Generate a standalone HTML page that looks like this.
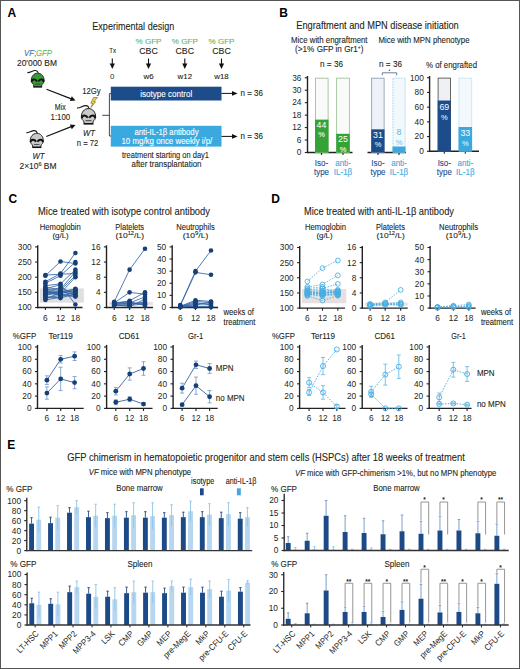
<!DOCTYPE html>
<html><head><meta charset="utf-8"><style>
html,body{margin:0;padding:0;background:#fff;}
svg{display:block;font-family:"Liberation Sans",sans-serif;}
</style></head><body>
<svg width="520" height="669" viewBox="0 0 520 669">
<rect x="0" y="0" width="520" height="669" fill="#fff"/>
<text x="7.5" y="16.6" font-size="12" fill="#000" font-weight="bold">A</text>
<text x="133.3" y="29.8" font-size="10" fill="#231f20" stroke="#231f20" stroke-width="0.1" text-anchor="middle" textLength="82" lengthAdjust="spacingAndGlyphs">Experimental design</text>
<text x="112.7" y="53.2" font-size="7.9" fill="#231f20" stroke="#231f20" stroke-width="0.1" text-anchor="middle" textLength="6.8" lengthAdjust="spacingAndGlyphs">Tx</text>
<line x1="112.3" y1="58.5" x2="112.3" y2="65" stroke="#111" stroke-width="1.1"/>
<path d="M109.7,63.5 L114.89999999999999,63.5 L112.3,69 Z" fill="#111" stroke="none" stroke-width="1"/>
<text x="148.5" y="43.5" font-size="7.9" fill="#5cb85c" stroke="#5cb85c" stroke-width="0.1" text-anchor="middle" textLength="26" lengthAdjust="spacingAndGlyphs">% GFP</text>
<text x="148.5" y="54.3" font-size="8.4" fill="#231f20" stroke="#231f20" stroke-width="0.1" text-anchor="middle" textLength="18.5" lengthAdjust="spacingAndGlyphs">CBC</text>
<line x1="148.5" y1="58.5" x2="148.5" y2="65" stroke="#111" stroke-width="1.1"/>
<path d="M145.9,63.5 L151.1,63.5 L148.5,69 Z" fill="#111" stroke="none" stroke-width="1"/>
<text x="184.8" y="43.5" font-size="7.9" fill="#5cb85c" stroke="#5cb85c" stroke-width="0.1" text-anchor="middle" textLength="26" lengthAdjust="spacingAndGlyphs">% GFP</text>
<text x="184.8" y="54.3" font-size="8.4" fill="#231f20" stroke="#231f20" stroke-width="0.1" text-anchor="middle" textLength="18.5" lengthAdjust="spacingAndGlyphs">CBC</text>
<line x1="184.8" y1="58.5" x2="184.8" y2="65" stroke="#111" stroke-width="1.1"/>
<path d="M182.20000000000002,63.5 L187.4,63.5 L184.8,69 Z" fill="#111" stroke="none" stroke-width="1"/>
<text x="221.5" y="43.5" font-size="7.9" fill="#5cb85c" stroke="#5cb85c" stroke-width="0.1" text-anchor="middle" textLength="26" lengthAdjust="spacingAndGlyphs">% GFP</text>
<text x="221.5" y="54.3" font-size="8.4" fill="#231f20" stroke="#231f20" stroke-width="0.1" text-anchor="middle" textLength="18.5" lengthAdjust="spacingAndGlyphs">CBC</text>
<line x1="221.5" y1="58.5" x2="221.5" y2="65" stroke="#111" stroke-width="1.1"/>
<path d="M218.9,63.5 L224.1,63.5 L221.5,69 Z" fill="#111" stroke="none" stroke-width="1"/>
<text x="112.3" y="78.8" font-size="7.9" fill="#231f20" text-anchor="middle">0</text>
<text x="148.5" y="78.8" font-size="7.9" fill="#231f20" stroke="#231f20" stroke-width="0.1" text-anchor="middle">w6</text>
<text x="184.8" y="78.8" font-size="7.9" fill="#231f20" stroke="#231f20" stroke-width="0.1" text-anchor="middle">w12</text>
<text x="221.5" y="78.8" font-size="7.9" fill="#231f20" stroke="#231f20" stroke-width="0.1" text-anchor="middle">w18</text>
<rect x="110.8" y="86.7" width="110.7" height="13.8" fill="#1c4c8a"/>
<text x="166.2" y="96.6" font-size="8.3" fill="#fff" stroke="#fff" stroke-width="0.1" text-anchor="middle" textLength="52" lengthAdjust="spacingAndGlyphs">isotype control</text>
<rect x="110.8" y="125.8" width="110.7" height="20.8" fill="#3aa9e0"/>
<text x="166.5" y="135.2" font-size="8.3" fill="#fff" stroke="#fff" stroke-width="0.1" text-anchor="middle" textLength="64" lengthAdjust="spacingAndGlyphs">anti-IL-1β antibody</text>
<text x="166.9" y="144.4" font-size="8.3" fill="#fff" stroke="#fff" stroke-width="0.1" text-anchor="middle" textLength="90.8" lengthAdjust="spacingAndGlyphs">10 mg/kg once weekly i/p/</text>
<text x="165.5" y="158.2" font-size="8.5" fill="#231f20" stroke="#231f20" stroke-width="0.1" text-anchor="middle" textLength="87" lengthAdjust="spacingAndGlyphs">treatment starting on day1</text>
<text x="166.5" y="166.6" font-size="8.5" fill="#231f20" stroke="#231f20" stroke-width="0.1" text-anchor="middle" textLength="70" lengthAdjust="spacingAndGlyphs">after transplantation</text>
<line x1="221.5" y1="93.4" x2="233" y2="93.4" stroke="#111" stroke-width="1"/>
<path d="M232,91.10000000000001 L237.6,93.4 L232,95.7 Z" fill="#111" stroke="none" stroke-width="1"/>
<text x="240.5" y="96.4" font-size="8.4" fill="#231f20" stroke="#231f20" stroke-width="0.1" textLength="22.5" lengthAdjust="spacingAndGlyphs">n = 36</text>
<line x1="221.5" y1="136.4" x2="233" y2="136.4" stroke="#111" stroke-width="1"/>
<path d="M232,134.1 L237.6,136.4 L232,138.70000000000002 Z" fill="#111" stroke="none" stroke-width="1"/>
<text x="240.5" y="139.4" font-size="8.4" fill="#231f20" stroke="#231f20" stroke-width="0.1" textLength="22.5" lengthAdjust="spacingAndGlyphs">n = 36</text>
<path d="M111,93.6 L109.4,93.6 L109.4,136 L111,136" fill="none" stroke="#333" stroke-width="0.9"/>
<line x1="102.2" y1="115.3" x2="109.4" y2="115.3" stroke="#333" stroke-width="0.9"/>
<g transform="translate(37.7,80.3) scale(0.9)"><path d="M-11.5,-8.6 C-9,-8 -7,-10.2 -3.5,-10.8 C-1,-11.2 0.2,-9.8 0.4,-7.8" fill="none" stroke="#1a1a1a" stroke-width="1.2"/><path d="M0,-7.9 C4.5,-7.9 7.1,-4 7.1,0 C7.1,2.5 5.8,3.8 4.7,4.8 L4.3,7 L-4.3,7 L-4.7,4.8 C-5.8,3.8 -7.1,2.5 -7.1,0 C-7.1,-4 -4.5,-7.9 0,-7.9 Z" fill="#3a9a3a" stroke="#1a1a1a" stroke-width="1"/><path d="M-6.8,1.6 C-6.2,-1.6 -2.6,-1.8 -0.7,1.3" fill="none" stroke="#111" stroke-width="2"/><path d="M6.8,1.6 C6.2,-1.6 2.6,-1.8 0.7,1.3" fill="none" stroke="#111" stroke-width="2"/><path d="M-3,4.2 L3,4.2" stroke="#333" stroke-width="0.9"/><path d="M-5,7.4 L5,7.4" stroke="#111" stroke-width="1.4"/></g>
<g transform="translate(88.5,116.5) scale(1.0)"><path d="M-11.5,-8.6 C-9,-8 -7,-10.2 -3.5,-10.8 C-1,-11.2 0.2,-9.8 0.4,-7.8" fill="none" stroke="#1a1a1a" stroke-width="1.2"/><path d="M0,-7.9 C4.5,-7.9 7.1,-4 7.1,0 C7.1,2.5 5.8,3.8 4.7,4.8 L4.3,7 L-4.3,7 L-4.7,4.8 C-5.8,3.8 -7.1,2.5 -7.1,0 C-7.1,-4 -4.5,-7.9 0,-7.9 Z" fill="#c9c9c9" stroke="#1a1a1a" stroke-width="1"/><path d="M-6.8,1.6 C-6.2,-1.6 -2.6,-1.8 -0.7,1.3" fill="none" stroke="#111" stroke-width="2"/><path d="M6.8,1.6 C6.2,-1.6 2.6,-1.8 0.7,1.3" fill="none" stroke="#111" stroke-width="2"/><path d="M-3,4.2 L3,4.2" stroke="#333" stroke-width="0.9"/><path d="M-5,7.4 L5,7.4" stroke="#111" stroke-width="1.4"/></g>
<g transform="translate(36.8,140.6) scale(0.92)"><path d="M-11.5,-8.6 C-9,-8 -7,-10.2 -3.5,-10.8 C-1,-11.2 0.2,-9.8 0.4,-7.8" fill="none" stroke="#1a1a1a" stroke-width="1.2"/><path d="M0,-7.9 C4.5,-7.9 7.1,-4 7.1,0 C7.1,2.5 5.8,3.8 4.7,4.8 L4.3,7 L-4.3,7 L-4.7,4.8 C-5.8,3.8 -7.1,2.5 -7.1,0 C-7.1,-4 -4.5,-7.9 0,-7.9 Z" fill="#c9c9c9" stroke="#1a1a1a" stroke-width="1"/><path d="M-6.8,1.6 C-6.2,-1.6 -2.6,-1.8 -0.7,1.3" fill="none" stroke="#111" stroke-width="2"/><path d="M6.8,1.6 C6.2,-1.6 2.6,-1.8 0.7,1.3" fill="none" stroke="#111" stroke-width="2"/><path d="M-3,4.2 L3,4.2" stroke="#333" stroke-width="0.9"/><path d="M-5,7.4 L5,7.4" stroke="#111" stroke-width="1.4"/></g>
<text x="38" y="55.6" font-size="8.4" fill="#231f20" stroke="#231f20" stroke-width="0.1" text-anchor="middle" textLength="28" lengthAdjust="spacingAndGlyphs"><tspan fill="#3b6cb3" stroke="#3b6cb3" font-style="italic">VF</tspan><tspan fill="#3b6cb3" stroke="#3b6cb3">;</tspan><tspan fill="#5cb85c" stroke="#5cb85c" font-style="italic">GFP</tspan></text>
<text x="37" y="65.6" font-size="8.4" fill="#231f20" stroke="#231f20" stroke-width="0.1" text-anchor="middle" textLength="40" lengthAdjust="spacingAndGlyphs">20'000 BM</text>
<text x="91.5" y="93.6" font-size="8.2" fill="#231f20" stroke="#231f20" stroke-width="0.1" text-anchor="middle" textLength="18.5" lengthAdjust="spacingAndGlyphs">12Gy</text>
<path d="M97.5,97.5 L93.8,101.8 L95.6,101.8 L91,107.5 L92.6,103.2 L90.8,103.2 L93.5,97.5 Z" fill="#f2d13a" stroke="#444" stroke-width="0.5"/>
<text x="60.3" y="110.2" font-size="8.4" fill="#231f20" stroke="#231f20" stroke-width="0.1" text-anchor="middle" textLength="11" lengthAdjust="spacingAndGlyphs">Mix</text>
<text x="60.4" y="119.8" font-size="8.4" fill="#231f20" stroke="#231f20" stroke-width="0.1" text-anchor="middle" textLength="19.7" lengthAdjust="spacingAndGlyphs">1:100</text>
<text x="89" y="136.4" font-size="8.4" fill="#231f20" stroke="#231f20" stroke-width="0.1" text-anchor="middle" font-style="italic" textLength="12" lengthAdjust="spacingAndGlyphs">WT</text>
<text x="87.5" y="146" font-size="8.2" fill="#231f20" stroke="#231f20" stroke-width="0.1" text-anchor="middle" textLength="21.5" lengthAdjust="spacingAndGlyphs">n = 72</text>
<text x="38.5" y="159" font-size="8.4" fill="#231f20" stroke="#231f20" stroke-width="0.1" text-anchor="middle" font-style="italic" textLength="12" lengthAdjust="spacingAndGlyphs">WT</text>
<text x="38" y="168.8" font-size="8.4" fill="#231f20" stroke="#231f20" stroke-width="0.1" text-anchor="middle" textLength="37" lengthAdjust="spacingAndGlyphs">2×10<tspan font-size="5.5" dy="-3">6</tspan><tspan dy="3"> BM</tspan></text>
<line x1="46.5" y1="89.2" x2="71.30706525539725" y2="98.86620128917204" stroke="#111" stroke-width="1.1"/>
<path d="M75.5,100.5 L69.89721102862968,101.10725261818385 L71.78515620558643,96.26208357997623 Z" fill="#111" stroke="none" stroke-width="1"/>
<line x1="46.3" y1="136.4" x2="71.30813791803361" y2="126.63654889501429" stroke="#111" stroke-width="1.1"/>
<path d="M75.5,125 L71.78793704826782,129.24035241959643 L69.89681388069576,124.3964229026575 Z" fill="#111" stroke="none" stroke-width="1"/>
<text x="279.3" y="17" font-size="12" fill="#000" font-weight="bold">B</text>
<text x="377.5" y="29" font-size="10.1" fill="#231f20" stroke="#231f20" stroke-width="0.1" text-anchor="middle" textLength="162.5" lengthAdjust="spacingAndGlyphs">Engraftment and MPN disease initiation</text>
<text x="329.3" y="43.2" font-size="8.8" fill="#231f20" stroke="#231f20" stroke-width="0.1" text-anchor="middle" textLength="76.5" lengthAdjust="spacingAndGlyphs">Mice with engraftment</text>
<text x="329.3" y="52.3" font-size="8.8" fill="#231f20" stroke="#231f20" stroke-width="0.1" text-anchor="middle" textLength="68.5" lengthAdjust="spacingAndGlyphs">(&gt;1% GFP in Gr1<tspan font-size="5.5" dy="-3">+</tspan><tspan dy="3">)</tspan></text>
<text x="424" y="43.2" font-size="8.8" fill="#231f20" stroke="#231f20" stroke-width="0.1" text-anchor="middle" textLength="91" lengthAdjust="spacingAndGlyphs">Mice with MPN phenotype</text>
<text x="331.5" y="67.2" font-size="8.9" fill="#231f20" stroke="#231f20" stroke-width="0.1" text-anchor="middle" textLength="23" lengthAdjust="spacingAndGlyphs">n = 36</text>
<text x="390.5" y="67.2" font-size="8.9" fill="#231f20" stroke="#231f20" stroke-width="0.1" text-anchor="middle" textLength="23" lengthAdjust="spacingAndGlyphs">n = 36</text>
<text x="451.5" y="67.5" font-size="8.8" fill="#231f20" stroke="#231f20" stroke-width="0.1" text-anchor="middle" textLength="51" lengthAdjust="spacingAndGlyphs">% of engrafted</text>
<line x1="307.5" y1="76" x2="307.5" y2="153.1" stroke="#222" stroke-width="1.4"/>
<line x1="307" y1="152.5" x2="352.5" y2="152.5" stroke="#222" stroke-width="1.4"/>
<line x1="304.8" y1="152.5" x2="307.5" y2="152.5" stroke="#222" stroke-width="1.1"/>
<text x="301.4" y="155.3" font-size="8.3" fill="#231f20" text-anchor="end">0</text>
<line x1="304.8" y1="140.044" x2="307.5" y2="140.044" stroke="#222" stroke-width="1.1"/>
<text x="301.4" y="142.84400000000002" font-size="8.3" fill="#231f20" text-anchor="end">6</text>
<line x1="304.8" y1="127.588" x2="307.5" y2="127.588" stroke="#222" stroke-width="1.1"/>
<text x="301.4" y="130.388" font-size="8.3" fill="#231f20" text-anchor="end">12</text>
<line x1="304.8" y1="115.132" x2="307.5" y2="115.132" stroke="#222" stroke-width="1.1"/>
<text x="301.4" y="117.932" font-size="8.3" fill="#231f20" text-anchor="end">18</text>
<line x1="304.8" y1="102.676" x2="307.5" y2="102.676" stroke="#222" stroke-width="1.1"/>
<text x="301.4" y="105.476" font-size="8.3" fill="#231f20" text-anchor="end">24</text>
<line x1="304.8" y1="90.22" x2="307.5" y2="90.22" stroke="#222" stroke-width="1.1"/>
<text x="301.4" y="93.02" font-size="8.3" fill="#231f20" text-anchor="end">30</text>
<line x1="304.8" y1="77.764" x2="307.5" y2="77.764" stroke="#222" stroke-width="1.1"/>
<text x="301.4" y="80.564" font-size="8.3" fill="#231f20" text-anchor="end">36</text>
<line x1="367.5" y1="152.5" x2="406" y2="152.5" stroke="#222" stroke-width="1.4"/>
<line x1="321.5" y1="152.5" x2="321.5" y2="155.0" stroke="#222" stroke-width="1.1"/>
<line x1="343" y1="152.5" x2="343" y2="155.0" stroke="#222" stroke-width="1.1"/>
<line x1="378" y1="152.5" x2="378" y2="155.0" stroke="#222" stroke-width="1.1"/>
<line x1="399" y1="152.5" x2="399" y2="155.0" stroke="#222" stroke-width="1.1"/>
<rect x="315.4" y="78.164" width="12.7" height="74.336" fill="#fafbf8" stroke="#94bc92" stroke-width="0.8"/>
<rect x="315" y="119.61616000000001" width="13.5" height="32.88384" fill="#34a236"/>
<rect x="336.65" y="78.164" width="12.7" height="74.336" fill="#fafbf8" stroke="#94bc92" stroke-width="0.8"/>
<rect x="336.25" y="133.816" width="13.5" height="18.684" fill="#34a236"/>
<rect x="371.65" y="78.164" width="12.45" height="74.336" fill="#eef1f7" stroke="#8494b4" stroke-width="0.8"/>
<rect x="371.25" y="129.33184" width="13.25" height="23.16816" fill="#1c4c8a"/>
<rect x="392.9" y="78.164" width="12.2" height="74.336" fill="#f3f8fc" stroke="#7fc4ea" stroke-width="0.8" stroke-dasharray="0.8,0.8"/>
<rect x="392.5" y="146.52112" width="13" height="5.97888" fill="#3aa9e0"/>
<text x="321.5" y="127.6" font-size="8.8" fill="#fff" text-anchor="middle">44</text>
<text x="321.5" y="137.4" font-size="7.5" fill="#eef8ec" stroke="#eef8ec" stroke-width="0.1" text-anchor="middle">%</text>
<text x="343" y="142" font-size="8.8" fill="#fff" text-anchor="middle">25</text>
<text x="343" y="151.5" font-size="7.5" fill="#eef8ec" stroke="#eef8ec" stroke-width="0.1" text-anchor="middle">%</text>
<text x="378" y="137.6" font-size="8.8" fill="#fff" text-anchor="middle">31</text>
<text x="378" y="147.2" font-size="7.5" fill="#d8e2f0" stroke="#d8e2f0" stroke-width="0.1" text-anchor="middle">%</text>
<text x="399" y="135.2" font-size="8.8" fill="#62b6e4" text-anchor="middle">8</text>
<text x="399" y="145.2" font-size="7.5" fill="#8ecbea" stroke="#8ecbea" stroke-width="0.1" text-anchor="middle">%</text>
<path d="M382.3,75.3 L382.3,72.8 L396.7,72.8 L396.7,75.3" fill="none" stroke="#5a6f96" stroke-width="0.9"/>
<circle cx="389.4" cy="70.2" r="0.8" fill="#555" stroke="none" stroke-width="1"/>
<line x1="429.6" y1="76" x2="429.6" y2="151.9" stroke="#222" stroke-width="1.4"/>
<line x1="429" y1="151.3" x2="479" y2="151.3" stroke="#222" stroke-width="1.4"/>
<line x1="427" y1="151.3" x2="429.6" y2="151.3" stroke="#222" stroke-width="1.1"/>
<text x="423.8" y="154.10000000000002" font-size="8.3" fill="#231f20" text-anchor="end">0</text>
<line x1="427" y1="136.58" x2="429.6" y2="136.58" stroke="#222" stroke-width="1.1"/>
<text x="423.8" y="139.38000000000002" font-size="8.3" fill="#231f20" text-anchor="end">20</text>
<line x1="427" y1="121.86000000000001" x2="429.6" y2="121.86000000000001" stroke="#222" stroke-width="1.1"/>
<text x="423.8" y="124.66000000000001" font-size="8.3" fill="#231f20" text-anchor="end">40</text>
<line x1="427" y1="107.14000000000001" x2="429.6" y2="107.14000000000001" stroke="#222" stroke-width="1.1"/>
<text x="423.8" y="109.94000000000001" font-size="8.3" fill="#231f20" text-anchor="end">60</text>
<line x1="427" y1="92.42000000000002" x2="429.6" y2="92.42000000000002" stroke="#222" stroke-width="1.1"/>
<text x="423.8" y="95.22000000000001" font-size="8.3" fill="#231f20" text-anchor="end">80</text>
<line x1="427" y1="77.70000000000002" x2="429.6" y2="77.70000000000002" stroke="#222" stroke-width="1.1"/>
<text x="423.8" y="80.50000000000001" font-size="8.3" fill="#231f20" text-anchor="end">100</text>
<line x1="444.3" y1="151.3" x2="444.3" y2="153.8" stroke="#222" stroke-width="1.1"/>
<line x1="465.3" y1="151.3" x2="465.3" y2="153.8" stroke="#222" stroke-width="1.1"/>
<rect x="438.1" y="78.10000000000002" width="12.4" height="73.19999999999999" fill="#eef0f4" stroke="#444" stroke-width="0.8"/>
<rect x="437.7" y="100.51600000000002" width="13.2" height="50.784" fill="#1c4c8a"/>
<rect x="458.9" y="78.10000000000002" width="12.8" height="73.19999999999999" fill="#f3f8fc" stroke="#8ecbea" stroke-width="0.8" stroke-dasharray="0.8,0.8"/>
<rect x="458.5" y="127.01200000000001" width="13.6" height="24.288" fill="#3aa9e0"/>
<text x="444.3" y="109.8" font-size="8.8" fill="#fff" text-anchor="middle">69</text>
<text x="444.3" y="119.5" font-size="7.5" fill="#d8e2f0" stroke="#d8e2f0" stroke-width="0.1" text-anchor="middle">%</text>
<text x="465.3" y="136.3" font-size="8.8" fill="#fff" text-anchor="middle">33</text>
<text x="465.3" y="146" font-size="7.5" fill="#d8eef8" stroke="#d8eef8" stroke-width="0.1" text-anchor="middle">%</text>
<text x="321.5" y="165.8" font-size="8.7" fill="#1c4c8a" stroke="#1c4c8a" stroke-width="0.1" text-anchor="middle" textLength="13.34" lengthAdjust="spacingAndGlyphs">Iso-</text>
<text x="321.5" y="174.8" font-size="8.7" fill="#1c4c8a" stroke="#1c4c8a" stroke-width="0.1" text-anchor="middle" textLength="15.12" lengthAdjust="spacingAndGlyphs">type</text>
<text x="343" y="165.8" font-size="8.7" fill="#3aa9e0" stroke="#3aa9e0" stroke-width="0.1" text-anchor="middle" textLength="15.56" lengthAdjust="spacingAndGlyphs">anti-</text>
<text x="343" y="174.8" font-size="8.7" fill="#3aa9e0" stroke="#3aa9e0" stroke-width="0.1" text-anchor="middle" textLength="18.39" lengthAdjust="spacingAndGlyphs">IL-1β</text>
<text x="378" y="165.8" font-size="8.7" fill="#1c4c8a" stroke="#1c4c8a" stroke-width="0.1" text-anchor="middle" textLength="13.34" lengthAdjust="spacingAndGlyphs">Iso-</text>
<text x="378" y="174.8" font-size="8.7" fill="#1c4c8a" stroke="#1c4c8a" stroke-width="0.1" text-anchor="middle" textLength="15.12" lengthAdjust="spacingAndGlyphs">type</text>
<text x="399" y="165.8" font-size="8.7" fill="#3aa9e0" stroke="#3aa9e0" stroke-width="0.1" text-anchor="middle" textLength="15.56" lengthAdjust="spacingAndGlyphs">anti-</text>
<text x="399" y="174.8" font-size="8.7" fill="#3aa9e0" stroke="#3aa9e0" stroke-width="0.1" text-anchor="middle" textLength="18.39" lengthAdjust="spacingAndGlyphs">IL-1β</text>
<text x="444.3" y="165.8" font-size="8.7" fill="#1c4c8a" stroke="#1c4c8a" stroke-width="0.1" text-anchor="middle" textLength="13.34" lengthAdjust="spacingAndGlyphs">Iso-</text>
<text x="444.3" y="174.8" font-size="8.7" fill="#1c4c8a" stroke="#1c4c8a" stroke-width="0.1" text-anchor="middle" textLength="15.12" lengthAdjust="spacingAndGlyphs">type</text>
<text x="465.3" y="165.8" font-size="8.7" fill="#3aa9e0" stroke="#3aa9e0" stroke-width="0.1" text-anchor="middle" textLength="15.56" lengthAdjust="spacingAndGlyphs">anti-</text>
<text x="465.3" y="174.8" font-size="8.7" fill="#3aa9e0" stroke="#3aa9e0" stroke-width="0.1" text-anchor="middle" textLength="18.39" lengthAdjust="spacingAndGlyphs">IL-1β</text>
<text x="8.5" y="203" font-size="12" fill="#000" font-weight="bold">C</text>
<text x="124" y="215.2" font-size="10.1" fill="#231f20" stroke="#231f20" stroke-width="0.1" text-anchor="middle" textLength="172" lengthAdjust="spacingAndGlyphs">Mice treated with isotype control antibody</text>
<text x="60.3" y="229.6" font-size="8.6" fill="#231f20" stroke="#231f20" stroke-width="0.1" text-anchor="middle" textLength="41" lengthAdjust="spacingAndGlyphs">Hemoglobin</text>
<text x="60.6" y="238.2" font-size="7.7" fill="#231f20" stroke="#231f20" stroke-width="0.1" text-anchor="middle" textLength="16.2" lengthAdjust="spacingAndGlyphs">(g/L)</text>
<text x="129.7" y="229.6" font-size="8.6" fill="#231f20" stroke="#231f20" stroke-width="0.1" text-anchor="middle" textLength="28.8" lengthAdjust="spacingAndGlyphs">Platelets</text>
<text x="129.7" y="238.2" font-size="7.7" fill="#231f20" stroke="#231f20" stroke-width="0.1" text-anchor="middle" textLength="28.6" lengthAdjust="spacingAndGlyphs">(10<tspan font-size="5.2" dy="-3">12</tspan><tspan dy="3">/L)</tspan></text>
<text x="195.5" y="229.6" font-size="8.6" fill="#231f20" stroke="#231f20" stroke-width="0.1" text-anchor="middle" textLength="38.5" lengthAdjust="spacingAndGlyphs">Neutrophils</text>
<text x="195.5" y="238.2" font-size="7.7" fill="#231f20" stroke="#231f20" stroke-width="0.1" text-anchor="middle" textLength="25.5" lengthAdjust="spacingAndGlyphs">(10<tspan font-size="5.4" dy="-3">9</tspan><tspan dy="3">/L)</tspan></text>
<rect x="40.0" y="288.411" width="43.8" height="14.240999999999985" fill="#e0dfdf"/>
<line x1="37.7" y1="245.3" x2="37.7" y2="308.2" stroke="#222" stroke-width="1.4"/>
<line x1="35.1" y1="307.5" x2="37.7" y2="307.5" stroke="#222" stroke-width="1.1"/>
<text x="31.700000000000003" y="310.4" font-size="8.3" fill="#231f20" text-anchor="end">100</text>
<line x1="35.1" y1="292.35" x2="37.7" y2="292.35" stroke="#222" stroke-width="1.1"/>
<text x="31.700000000000003" y="295.25" font-size="8.3" fill="#231f20" text-anchor="end">150</text>
<line x1="35.1" y1="277.2" x2="37.7" y2="277.2" stroke="#222" stroke-width="1.1"/>
<text x="31.700000000000003" y="280.09999999999997" font-size="8.3" fill="#231f20" text-anchor="end">200</text>
<line x1="35.1" y1="262.05" x2="37.7" y2="262.05" stroke="#222" stroke-width="1.1"/>
<text x="31.700000000000003" y="264.95" font-size="8.3" fill="#231f20" text-anchor="end">250</text>
<line x1="35.1" y1="246.9" x2="37.7" y2="246.9" stroke="#222" stroke-width="1.1"/>
<text x="31.700000000000003" y="249.8" font-size="8.3" fill="#231f20" text-anchor="end">300</text>
<line x1="37.0" y1="307.5" x2="82.5" y2="307.5" stroke="#222" stroke-width="1.4"/>
<line x1="45.4" y1="307.5" x2="45.4" y2="310.1" stroke="#222" stroke-width="1.1"/>
<text x="45.4" y="320.8" font-size="8.3" fill="#231f20" text-anchor="middle">6</text>
<line x1="60.5" y1="307.5" x2="60.5" y2="310.1" stroke="#222" stroke-width="1.1"/>
<text x="60.5" y="320.8" font-size="8.3" fill="#231f20" text-anchor="middle">12</text>
<line x1="75.4" y1="307.5" x2="75.4" y2="310.1" stroke="#222" stroke-width="1.1"/>
<text x="75.4" y="320.8" font-size="8.3" fill="#231f20" text-anchor="middle">18</text>
<polyline points="45.4,275.685 60.5,261.444 75.4,263.565" fill="none" stroke="#3465a5" stroke-width="0.85"/>
<polyline points="45.4,275.079 60.5,274.17 75.4,273.564" fill="none" stroke="#3465a5" stroke-width="0.85"/>
<polyline points="45.4,281.745 60.5,273.564 75.4,252.96" fill="none" stroke="#3465a5" stroke-width="0.85"/>
<polyline points="45.4,283.26 60.5,275.685 75.4,262.05" fill="none" stroke="#3465a5" stroke-width="0.85"/>
<polyline points="45.4,285.684 60.5,283.866 75.4,269.625" fill="none" stroke="#3465a5" stroke-width="0.85"/>
<polyline points="45.4,287.502 60.5,289.32 75.4,271.746" fill="none" stroke="#3465a5" stroke-width="0.85"/>
<polyline points="45.4,289.32 60.5,290.229 75.4,275.685" fill="none" stroke="#3465a5" stroke-width="0.85"/>
<polyline points="45.4,290.229 60.5,292.35 75.4,288.714" fill="none" stroke="#3465a5" stroke-width="0.85"/>
<polyline points="45.4,291.744 60.5,293.562 75.4,290.532" fill="none" stroke="#3465a5" stroke-width="0.85"/>
<polyline points="45.4,292.956 60.5,295.077 75.4,292.35" fill="none" stroke="#3465a5" stroke-width="0.85"/>
<polyline points="45.4,293.865 60.5,286.896 75.4,295.077" fill="none" stroke="#3465a5" stroke-width="0.85"/>
<polyline points="45.4,295.077 60.5,292.047 75.4,289.32" fill="none" stroke="#3465a5" stroke-width="0.85"/>
<polyline points="45.4,296.592 60.5,298.107 75.4,293.562" fill="none" stroke="#3465a5" stroke-width="0.85"/>
<polyline points="45.4,298.107 60.5,295.38 75.4,296.592" fill="none" stroke="#3465a5" stroke-width="0.85"/>
<polyline points="45.4,299.925 60.5,297.198 75.4,291.744" fill="none" stroke="#3465a5" stroke-width="0.85"/>
<polyline points="45.4,288.714 60.5,284.775 75.4,304.47" fill="none" stroke="#3465a5" stroke-width="0.85"/>
<polyline points="45.4,292.35 60.5,293.259 75.4,277.2" fill="none" stroke="#3465a5" stroke-width="0.85"/>
<polyline points="45.4,295.683 60.5,290.532 75.4,295.38" fill="none" stroke="#3465a5" stroke-width="0.85"/>
<polyline points="45.4,290.835 60.5,294.471 75.4,295.986" fill="none" stroke="#3465a5" stroke-width="0.85"/>
<polyline points="45.4,299.016 60.5,292.653 75.4,290.835" fill="none" stroke="#3465a5" stroke-width="0.85"/>
<circle cx="45.4" cy="275.685" r="2.3" fill="#173f78" stroke="none" stroke-width="1"/>
<circle cx="60.5" cy="261.444" r="2.3" fill="#173f78" stroke="none" stroke-width="1"/>
<circle cx="75.4" cy="263.565" r="2.3" fill="#173f78" stroke="none" stroke-width="1"/>
<circle cx="45.4" cy="275.079" r="2.3" fill="#173f78" stroke="none" stroke-width="1"/>
<circle cx="60.5" cy="274.17" r="2.3" fill="#173f78" stroke="none" stroke-width="1"/>
<circle cx="75.4" cy="273.564" r="2.3" fill="#173f78" stroke="none" stroke-width="1"/>
<circle cx="45.4" cy="281.745" r="2.3" fill="#173f78" stroke="none" stroke-width="1"/>
<circle cx="60.5" cy="273.564" r="2.3" fill="#173f78" stroke="none" stroke-width="1"/>
<circle cx="75.4" cy="252.96" r="2.3" fill="#173f78" stroke="none" stroke-width="1"/>
<circle cx="45.4" cy="283.26" r="2.3" fill="#173f78" stroke="none" stroke-width="1"/>
<circle cx="60.5" cy="275.685" r="2.3" fill="#173f78" stroke="none" stroke-width="1"/>
<circle cx="75.4" cy="262.05" r="2.3" fill="#173f78" stroke="none" stroke-width="1"/>
<circle cx="45.4" cy="285.684" r="2.3" fill="#173f78" stroke="none" stroke-width="1"/>
<circle cx="60.5" cy="283.866" r="2.3" fill="#173f78" stroke="none" stroke-width="1"/>
<circle cx="75.4" cy="269.625" r="2.3" fill="#173f78" stroke="none" stroke-width="1"/>
<circle cx="45.4" cy="287.502" r="2.3" fill="#173f78" stroke="none" stroke-width="1"/>
<circle cx="60.5" cy="289.32" r="2.3" fill="#173f78" stroke="none" stroke-width="1"/>
<circle cx="75.4" cy="271.746" r="2.3" fill="#173f78" stroke="none" stroke-width="1"/>
<circle cx="45.4" cy="289.32" r="2.3" fill="#173f78" stroke="none" stroke-width="1"/>
<circle cx="60.5" cy="290.229" r="2.3" fill="#173f78" stroke="none" stroke-width="1"/>
<circle cx="75.4" cy="275.685" r="2.3" fill="#173f78" stroke="none" stroke-width="1"/>
<circle cx="45.4" cy="290.229" r="2.3" fill="#173f78" stroke="none" stroke-width="1"/>
<circle cx="60.5" cy="292.35" r="2.3" fill="#173f78" stroke="none" stroke-width="1"/>
<circle cx="75.4" cy="288.714" r="2.3" fill="#173f78" stroke="none" stroke-width="1"/>
<circle cx="45.4" cy="291.744" r="2.3" fill="#173f78" stroke="none" stroke-width="1"/>
<circle cx="60.5" cy="293.562" r="2.3" fill="#173f78" stroke="none" stroke-width="1"/>
<circle cx="75.4" cy="290.532" r="2.3" fill="#173f78" stroke="none" stroke-width="1"/>
<circle cx="45.4" cy="292.956" r="2.3" fill="#173f78" stroke="none" stroke-width="1"/>
<circle cx="60.5" cy="295.077" r="2.3" fill="#173f78" stroke="none" stroke-width="1"/>
<circle cx="75.4" cy="292.35" r="2.3" fill="#173f78" stroke="none" stroke-width="1"/>
<circle cx="45.4" cy="293.865" r="2.3" fill="#173f78" stroke="none" stroke-width="1"/>
<circle cx="60.5" cy="286.896" r="2.3" fill="#173f78" stroke="none" stroke-width="1"/>
<circle cx="75.4" cy="295.077" r="2.3" fill="#173f78" stroke="none" stroke-width="1"/>
<circle cx="45.4" cy="295.077" r="2.3" fill="#173f78" stroke="none" stroke-width="1"/>
<circle cx="60.5" cy="292.047" r="2.3" fill="#173f78" stroke="none" stroke-width="1"/>
<circle cx="75.4" cy="289.32" r="2.3" fill="#173f78" stroke="none" stroke-width="1"/>
<circle cx="45.4" cy="296.592" r="2.3" fill="#173f78" stroke="none" stroke-width="1"/>
<circle cx="60.5" cy="298.107" r="2.3" fill="#173f78" stroke="none" stroke-width="1"/>
<circle cx="75.4" cy="293.562" r="2.3" fill="#173f78" stroke="none" stroke-width="1"/>
<circle cx="45.4" cy="298.107" r="2.3" fill="#173f78" stroke="none" stroke-width="1"/>
<circle cx="60.5" cy="295.38" r="2.3" fill="#173f78" stroke="none" stroke-width="1"/>
<circle cx="75.4" cy="296.592" r="2.3" fill="#173f78" stroke="none" stroke-width="1"/>
<circle cx="45.4" cy="299.925" r="2.3" fill="#173f78" stroke="none" stroke-width="1"/>
<circle cx="60.5" cy="297.198" r="2.3" fill="#173f78" stroke="none" stroke-width="1"/>
<circle cx="75.4" cy="291.744" r="2.3" fill="#173f78" stroke="none" stroke-width="1"/>
<circle cx="45.4" cy="288.714" r="2.3" fill="#173f78" stroke="none" stroke-width="1"/>
<circle cx="60.5" cy="284.775" r="2.3" fill="#173f78" stroke="none" stroke-width="1"/>
<circle cx="75.4" cy="304.47" r="2.3" fill="#173f78" stroke="none" stroke-width="1"/>
<circle cx="45.4" cy="292.35" r="2.3" fill="#173f78" stroke="none" stroke-width="1"/>
<circle cx="60.5" cy="293.259" r="2.3" fill="#173f78" stroke="none" stroke-width="1"/>
<circle cx="75.4" cy="277.2" r="2.3" fill="#173f78" stroke="none" stroke-width="1"/>
<circle cx="45.4" cy="295.683" r="2.3" fill="#173f78" stroke="none" stroke-width="1"/>
<circle cx="60.5" cy="290.532" r="2.3" fill="#173f78" stroke="none" stroke-width="1"/>
<circle cx="75.4" cy="295.38" r="2.3" fill="#173f78" stroke="none" stroke-width="1"/>
<circle cx="45.4" cy="290.835" r="2.3" fill="#173f78" stroke="none" stroke-width="1"/>
<circle cx="60.5" cy="294.471" r="2.3" fill="#173f78" stroke="none" stroke-width="1"/>
<circle cx="75.4" cy="295.986" r="2.3" fill="#173f78" stroke="none" stroke-width="1"/>
<circle cx="45.4" cy="299.016" r="2.3" fill="#173f78" stroke="none" stroke-width="1"/>
<circle cx="60.5" cy="292.653" r="2.3" fill="#173f78" stroke="none" stroke-width="1"/>
<circle cx="75.4" cy="290.835" r="2.3" fill="#173f78" stroke="none" stroke-width="1"/>
<rect x="109.0" y="301.81875" width="44.0" height="3.4087499999999977" fill="#e8e4e4"/>
<line x1="106.5" y1="245.3" x2="106.5" y2="308.2" stroke="#222" stroke-width="1.4"/>
<line x1="103.9" y1="307.5" x2="106.5" y2="307.5" stroke="#222" stroke-width="1.1"/>
<text x="100.5" y="310.4" font-size="8.3" fill="#231f20" text-anchor="end">0</text>
<line x1="103.9" y1="292.35" x2="106.5" y2="292.35" stroke="#222" stroke-width="1.1"/>
<text x="100.5" y="295.25" font-size="8.3" fill="#231f20" text-anchor="end">4</text>
<line x1="103.9" y1="277.2" x2="106.5" y2="277.2" stroke="#222" stroke-width="1.1"/>
<text x="100.5" y="280.09999999999997" font-size="8.3" fill="#231f20" text-anchor="end">8</text>
<line x1="103.9" y1="262.05" x2="106.5" y2="262.05" stroke="#222" stroke-width="1.1"/>
<text x="100.5" y="264.95" font-size="8.3" fill="#231f20" text-anchor="end">12</text>
<line x1="103.9" y1="246.9" x2="106.5" y2="246.9" stroke="#222" stroke-width="1.1"/>
<text x="100.5" y="249.8" font-size="8.3" fill="#231f20" text-anchor="end">16</text>
<line x1="105.8" y1="307.5" x2="153" y2="307.5" stroke="#222" stroke-width="1.4"/>
<line x1="114.2" y1="307.5" x2="114.2" y2="310.1" stroke="#222" stroke-width="1.1"/>
<text x="114.2" y="320.8" font-size="8.3" fill="#231f20" text-anchor="middle">6</text>
<line x1="129.6" y1="307.5" x2="129.6" y2="310.1" stroke="#222" stroke-width="1.1"/>
<text x="129.6" y="320.8" font-size="8.3" fill="#231f20" text-anchor="middle">12</text>
<line x1="145" y1="307.5" x2="145" y2="310.1" stroke="#222" stroke-width="1.1"/>
<text x="145" y="320.8" font-size="8.3" fill="#231f20" text-anchor="middle">18</text>
<polyline points="114.2,301.81875 129.6,269.625 145,248.79375" fill="none" stroke="#3465a5" stroke-width="0.85"/>
<polyline points="114.2,302.955 129.6,292.35 145,294.24375" fill="none" stroke="#3465a5" stroke-width="0.85"/>
<polyline points="114.2,303.7125 129.6,300.6825 145,292.35" fill="none" stroke="#3465a5" stroke-width="0.85"/>
<polyline points="114.2,304.47 129.6,302.955 145,296.895" fill="none" stroke="#3465a5" stroke-width="0.85"/>
<polyline points="114.2,305.2275 129.6,304.47 145,301.81875" fill="none" stroke="#3465a5" stroke-width="0.85"/>
<polyline points="114.2,305.60625 129.6,305.60625 145,303.7125" fill="none" stroke="#3465a5" stroke-width="0.85"/>
<polyline points="114.2,302.57625 129.6,301.81875 145,305.60625" fill="none" stroke="#3465a5" stroke-width="0.85"/>
<polyline points="114.2,304.09125 129.6,303.7125 145,302.955" fill="none" stroke="#3465a5" stroke-width="0.85"/>
<polyline points="114.2,304.84875 129.6,306.36375 145,299.1675" fill="none" stroke="#3465a5" stroke-width="0.85"/>
<polyline points="114.2,303.33375 129.6,302.57625 145,304.47" fill="none" stroke="#3465a5" stroke-width="0.85"/>
<circle cx="114.2" cy="301.81875" r="2.3" fill="#173f78" stroke="none" stroke-width="1"/>
<circle cx="129.6" cy="269.625" r="2.3" fill="#173f78" stroke="none" stroke-width="1"/>
<circle cx="145" cy="248.79375" r="2.3" fill="#173f78" stroke="none" stroke-width="1"/>
<circle cx="114.2" cy="302.955" r="2.3" fill="#173f78" stroke="none" stroke-width="1"/>
<circle cx="129.6" cy="292.35" r="2.3" fill="#173f78" stroke="none" stroke-width="1"/>
<circle cx="145" cy="294.24375" r="2.3" fill="#173f78" stroke="none" stroke-width="1"/>
<circle cx="114.2" cy="303.7125" r="2.3" fill="#173f78" stroke="none" stroke-width="1"/>
<circle cx="129.6" cy="300.6825" r="2.3" fill="#173f78" stroke="none" stroke-width="1"/>
<circle cx="145" cy="292.35" r="2.3" fill="#173f78" stroke="none" stroke-width="1"/>
<circle cx="114.2" cy="304.47" r="2.3" fill="#173f78" stroke="none" stroke-width="1"/>
<circle cx="129.6" cy="302.955" r="2.3" fill="#173f78" stroke="none" stroke-width="1"/>
<circle cx="145" cy="296.895" r="2.3" fill="#173f78" stroke="none" stroke-width="1"/>
<circle cx="114.2" cy="305.2275" r="2.3" fill="#173f78" stroke="none" stroke-width="1"/>
<circle cx="129.6" cy="304.47" r="2.3" fill="#173f78" stroke="none" stroke-width="1"/>
<circle cx="145" cy="301.81875" r="2.3" fill="#173f78" stroke="none" stroke-width="1"/>
<circle cx="114.2" cy="305.60625" r="2.3" fill="#173f78" stroke="none" stroke-width="1"/>
<circle cx="129.6" cy="305.60625" r="2.3" fill="#173f78" stroke="none" stroke-width="1"/>
<circle cx="145" cy="303.7125" r="2.3" fill="#173f78" stroke="none" stroke-width="1"/>
<circle cx="114.2" cy="302.57625" r="2.3" fill="#173f78" stroke="none" stroke-width="1"/>
<circle cx="129.6" cy="301.81875" r="2.3" fill="#173f78" stroke="none" stroke-width="1"/>
<circle cx="145" cy="305.60625" r="2.3" fill="#173f78" stroke="none" stroke-width="1"/>
<circle cx="114.2" cy="304.09125" r="2.3" fill="#173f78" stroke="none" stroke-width="1"/>
<circle cx="129.6" cy="303.7125" r="2.3" fill="#173f78" stroke="none" stroke-width="1"/>
<circle cx="145" cy="302.955" r="2.3" fill="#173f78" stroke="none" stroke-width="1"/>
<circle cx="114.2" cy="304.84875" r="2.3" fill="#173f78" stroke="none" stroke-width="1"/>
<circle cx="129.6" cy="306.36375" r="2.3" fill="#173f78" stroke="none" stroke-width="1"/>
<circle cx="145" cy="299.1675" r="2.3" fill="#173f78" stroke="none" stroke-width="1"/>
<circle cx="114.2" cy="303.33375" r="2.3" fill="#173f78" stroke="none" stroke-width="1"/>
<circle cx="129.6" cy="302.57625" r="2.3" fill="#173f78" stroke="none" stroke-width="1"/>
<circle cx="145" cy="304.47" r="2.3" fill="#173f78" stroke="none" stroke-width="1"/>
<line x1="172.2" y1="245.3" x2="172.2" y2="308.2" stroke="#222" stroke-width="1.4"/>
<line x1="169.6" y1="307.5" x2="172.2" y2="307.5" stroke="#222" stroke-width="1.1"/>
<text x="166.2" y="310.4" font-size="8.3" fill="#231f20" text-anchor="end">0</text>
<line x1="169.6" y1="295.38" x2="172.2" y2="295.38" stroke="#222" stroke-width="1.1"/>
<text x="166.2" y="298.28" font-size="8.3" fill="#231f20" text-anchor="end">10</text>
<line x1="169.6" y1="283.26" x2="172.2" y2="283.26" stroke="#222" stroke-width="1.1"/>
<text x="166.2" y="286.15999999999997" font-size="8.3" fill="#231f20" text-anchor="end">20</text>
<line x1="169.6" y1="271.14" x2="172.2" y2="271.14" stroke="#222" stroke-width="1.1"/>
<text x="166.2" y="274.03999999999996" font-size="8.3" fill="#231f20" text-anchor="end">30</text>
<line x1="169.6" y1="259.02" x2="172.2" y2="259.02" stroke="#222" stroke-width="1.1"/>
<text x="166.2" y="261.91999999999996" font-size="8.3" fill="#231f20" text-anchor="end">40</text>
<line x1="169.6" y1="246.9" x2="172.2" y2="246.9" stroke="#222" stroke-width="1.1"/>
<text x="166.2" y="249.8" font-size="8.3" fill="#231f20" text-anchor="end">50</text>
<line x1="171.5" y1="307.5" x2="218.1" y2="307.5" stroke="#222" stroke-width="1.4"/>
<line x1="180.3" y1="307.5" x2="180.3" y2="310.1" stroke="#222" stroke-width="1.1"/>
<text x="180.3" y="320.8" font-size="8.3" fill="#231f20" text-anchor="middle">6</text>
<line x1="195.5" y1="307.5" x2="195.5" y2="310.1" stroke="#222" stroke-width="1.1"/>
<text x="195.5" y="320.8" font-size="8.3" fill="#231f20" text-anchor="middle">12</text>
<line x1="211" y1="307.5" x2="211" y2="310.1" stroke="#222" stroke-width="1.1"/>
<text x="211" y="320.8" font-size="8.3" fill="#231f20" text-anchor="middle">18</text>
<polyline points="180.3,305.076 195.5,271.14 211,250.536" fill="none" stroke="#3465a5" stroke-width="0.85"/>
<polyline points="180.3,305.682 195.5,272.352 211,274.776" fill="none" stroke="#3465a5" stroke-width="0.85"/>
<polyline points="180.3,306.288 195.5,300.228 211,301.44" fill="none" stroke="#3465a5" stroke-width="0.85"/>
<polyline points="180.3,306.5304 195.5,301.44 211,302.652" fill="none" stroke="#3465a5" stroke-width="0.85"/>
<polyline points="180.3,306.894 195.5,303.864 211,303.864" fill="none" stroke="#3465a5" stroke-width="0.85"/>
<polyline points="180.3,307.1364 195.5,306.288 211,306.288" fill="none" stroke="#3465a5" stroke-width="0.85"/>
<polyline points="180.3,306.0456 195.5,306.894 211,306.894" fill="none" stroke="#3465a5" stroke-width="0.85"/>
<polyline points="180.3,306.7728 195.5,302.652 211,305.076" fill="none" stroke="#3465a5" stroke-width="0.85"/>
<polyline points="180.3,306.4092 195.5,305.076 211,302.046" fill="none" stroke="#3465a5" stroke-width="0.85"/>
<circle cx="180.3" cy="305.076" r="2.3" fill="#173f78" stroke="none" stroke-width="1"/>
<circle cx="195.5" cy="271.14" r="2.3" fill="#173f78" stroke="none" stroke-width="1"/>
<circle cx="211" cy="250.536" r="2.3" fill="#173f78" stroke="none" stroke-width="1"/>
<circle cx="180.3" cy="305.682" r="2.3" fill="#173f78" stroke="none" stroke-width="1"/>
<circle cx="195.5" cy="272.352" r="2.3" fill="#173f78" stroke="none" stroke-width="1"/>
<circle cx="211" cy="274.776" r="2.3" fill="#173f78" stroke="none" stroke-width="1"/>
<circle cx="180.3" cy="306.288" r="2.3" fill="#173f78" stroke="none" stroke-width="1"/>
<circle cx="195.5" cy="300.228" r="2.3" fill="#173f78" stroke="none" stroke-width="1"/>
<circle cx="211" cy="301.44" r="2.3" fill="#173f78" stroke="none" stroke-width="1"/>
<circle cx="180.3" cy="306.5304" r="2.3" fill="#173f78" stroke="none" stroke-width="1"/>
<circle cx="195.5" cy="301.44" r="2.3" fill="#173f78" stroke="none" stroke-width="1"/>
<circle cx="211" cy="302.652" r="2.3" fill="#173f78" stroke="none" stroke-width="1"/>
<circle cx="180.3" cy="306.894" r="2.3" fill="#173f78" stroke="none" stroke-width="1"/>
<circle cx="195.5" cy="303.864" r="2.3" fill="#173f78" stroke="none" stroke-width="1"/>
<circle cx="211" cy="303.864" r="2.3" fill="#173f78" stroke="none" stroke-width="1"/>
<circle cx="180.3" cy="307.1364" r="2.3" fill="#173f78" stroke="none" stroke-width="1"/>
<circle cx="195.5" cy="306.288" r="2.3" fill="#173f78" stroke="none" stroke-width="1"/>
<circle cx="211" cy="306.288" r="2.3" fill="#173f78" stroke="none" stroke-width="1"/>
<circle cx="180.3" cy="306.0456" r="2.3" fill="#173f78" stroke="none" stroke-width="1"/>
<circle cx="195.5" cy="306.894" r="2.3" fill="#173f78" stroke="none" stroke-width="1"/>
<circle cx="211" cy="306.894" r="2.3" fill="#173f78" stroke="none" stroke-width="1"/>
<circle cx="180.3" cy="306.7728" r="2.3" fill="#173f78" stroke="none" stroke-width="1"/>
<circle cx="195.5" cy="302.652" r="2.3" fill="#173f78" stroke="none" stroke-width="1"/>
<circle cx="211" cy="305.076" r="2.3" fill="#173f78" stroke="none" stroke-width="1"/>
<circle cx="180.3" cy="306.4092" r="2.3" fill="#173f78" stroke="none" stroke-width="1"/>
<circle cx="195.5" cy="305.076" r="2.3" fill="#173f78" stroke="none" stroke-width="1"/>
<circle cx="211" cy="302.046" r="2.3" fill="#173f78" stroke="none" stroke-width="1"/>
<text x="223.6" y="315.2" font-size="8.7" fill="#231f20" stroke="#231f20" stroke-width="0.1" textLength="30.2" lengthAdjust="spacingAndGlyphs">weeks of</text>
<text x="223.6" y="325" font-size="8.7" fill="#231f20" stroke="#231f20" stroke-width="0.1" textLength="31.8" lengthAdjust="spacingAndGlyphs">treatment</text>
<text x="271.2" y="203" font-size="12" fill="#000" font-weight="bold">D</text>
<text x="379" y="215.2" font-size="10.1" fill="#231f20" stroke="#231f20" stroke-width="0.1" text-anchor="middle" textLength="150" lengthAdjust="spacingAndGlyphs">Mice treated with anti-IL-1β antibody</text>
<text x="325.5" y="229.6" font-size="8.6" fill="#231f20" stroke="#231f20" stroke-width="0.1" text-anchor="middle" textLength="41" lengthAdjust="spacingAndGlyphs">Hemoglobin</text>
<text x="324.5" y="238.2" font-size="7.7" fill="#231f20" stroke="#231f20" stroke-width="0.1" text-anchor="middle" textLength="16.2" lengthAdjust="spacingAndGlyphs">(g/L)</text>
<text x="390.5" y="229.6" font-size="8.6" fill="#231f20" stroke="#231f20" stroke-width="0.1" text-anchor="middle" textLength="28.8" lengthAdjust="spacingAndGlyphs">Platelets</text>
<text x="390.7" y="238.2" font-size="7.7" fill="#231f20" stroke="#231f20" stroke-width="0.1" text-anchor="middle" textLength="28.4" lengthAdjust="spacingAndGlyphs">(10<tspan font-size="5.4" dy="-3">12</tspan><tspan dy="3">/L)</tspan></text>
<text x="458.6" y="229.6" font-size="8.6" fill="#231f20" stroke="#231f20" stroke-width="0.1" text-anchor="middle" textLength="39" lengthAdjust="spacingAndGlyphs">Neutrophils</text>
<text x="458.4" y="238.2" font-size="7.7" fill="#231f20" stroke="#231f20" stroke-width="0.1" text-anchor="middle" textLength="25.5" lengthAdjust="spacingAndGlyphs">(10<tspan font-size="5.4" dy="-3">9</tspan><tspan dy="3">/L)</tspan></text>
<rect x="302.0" y="289.011" width="44.30000000000001" height="14.240999999999985" fill="#e6e0e0"/>
<line x1="299.7" y1="245.9" x2="299.7" y2="308.8" stroke="#222" stroke-width="1.4"/>
<line x1="297.09999999999997" y1="308.1" x2="299.7" y2="308.1" stroke="#222" stroke-width="1.1"/>
<text x="293.7" y="311.0" font-size="8.3" fill="#231f20" text-anchor="end">100</text>
<line x1="297.09999999999997" y1="292.95000000000005" x2="299.7" y2="292.95000000000005" stroke="#222" stroke-width="1.1"/>
<text x="293.7" y="295.85" font-size="8.3" fill="#231f20" text-anchor="end">150</text>
<line x1="297.09999999999997" y1="277.8" x2="299.7" y2="277.8" stroke="#222" stroke-width="1.1"/>
<text x="293.7" y="280.7" font-size="8.3" fill="#231f20" text-anchor="end">200</text>
<line x1="297.09999999999997" y1="262.65000000000003" x2="299.7" y2="262.65000000000003" stroke="#222" stroke-width="1.1"/>
<text x="293.7" y="265.55" font-size="8.3" fill="#231f20" text-anchor="end">250</text>
<line x1="297.09999999999997" y1="247.50000000000003" x2="299.7" y2="247.50000000000003" stroke="#222" stroke-width="1.1"/>
<text x="293.7" y="250.40000000000003" font-size="8.3" fill="#231f20" text-anchor="end">300</text>
<line x1="299.0" y1="308.1" x2="345" y2="308.1" stroke="#222" stroke-width="1.4"/>
<line x1="307.4" y1="308.1" x2="307.4" y2="310.70000000000005" stroke="#222" stroke-width="1.1"/>
<text x="307.4" y="321.40000000000003" font-size="8.3" fill="#231f20" text-anchor="middle">6</text>
<line x1="322.5" y1="308.1" x2="322.5" y2="310.70000000000005" stroke="#222" stroke-width="1.1"/>
<text x="322.5" y="321.40000000000003" font-size="8.3" fill="#231f20" text-anchor="middle">12</text>
<line x1="337.8" y1="308.1" x2="337.8" y2="310.70000000000005" stroke="#222" stroke-width="1.1"/>
<text x="337.8" y="321.40000000000003" font-size="8.3" fill="#231f20" text-anchor="middle">18</text>
<polyline points="307.4,281.43600000000004 322.5,268.10400000000004 337.8,260.529" fill="none" stroke="#45ace2" stroke-width="0.8" stroke-dasharray="1.6,1.3"/>
<polyline points="307.4,286.89000000000004 322.5,284.466 337.8,275.37600000000003" fill="none" stroke="#45ace2" stroke-width="0.8" stroke-dasharray="1.6,1.3"/>
<polyline points="307.4,289.92 322.5,288.40500000000003 337.8,283.86" fill="none" stroke="#45ace2" stroke-width="0.8" stroke-dasharray="1.6,1.3"/>
<polyline points="307.4,291.435 322.5,290.526 337.8,289.92" fill="none" stroke="#45ace2" stroke-width="0.8" stroke-dasharray="1.6,1.3"/>
<polyline points="307.4,292.95000000000005 322.5,292.95000000000005 337.8,291.435" fill="none" stroke="#45ace2" stroke-width="0.8" stroke-dasharray="1.6,1.3"/>
<polyline points="307.4,294.46500000000003 322.5,295.98 337.8,292.95000000000005" fill="none" stroke="#45ace2" stroke-width="0.8" stroke-dasharray="1.6,1.3"/>
<polyline points="307.4,295.98 322.5,300.52500000000003 337.8,295.677" fill="none" stroke="#45ace2" stroke-width="0.8" stroke-dasharray="1.6,1.3"/>
<polyline points="307.4,292.34400000000005 322.5,294.46500000000003 337.8,294.16200000000003" fill="none" stroke="#45ace2" stroke-width="0.8" stroke-dasharray="1.6,1.3"/>
<polyline points="307.4,293.55600000000004 322.5,291.435 337.8,293.55600000000004" fill="none" stroke="#45ace2" stroke-width="0.8" stroke-dasharray="1.6,1.3"/>
<polyline points="307.4,290.526 322.5,293.55600000000004 337.8,292.34400000000005" fill="none" stroke="#45ace2" stroke-width="0.8" stroke-dasharray="1.6,1.3"/>
<polyline points="307.4,295.071 322.5,292.64700000000005 337.8,290.526" fill="none" stroke="#45ace2" stroke-width="0.8" stroke-dasharray="1.6,1.3"/>
<polyline points="307.4,288.40500000000003 322.5,286.89000000000004 337.8,294.46500000000003" fill="none" stroke="#45ace2" stroke-width="0.8" stroke-dasharray="1.6,1.3"/>
<polyline points="307.4,293.85900000000004 322.5,295.071 337.8,295.071" fill="none" stroke="#45ace2" stroke-width="0.8" stroke-dasharray="1.6,1.3"/>
<polyline points="307.4,292.041 322.5,293.85900000000004 337.8,291.435" fill="none" stroke="#45ace2" stroke-width="0.8" stroke-dasharray="1.6,1.3"/>
<circle cx="307.4" cy="281.43600000000004" r="2.4" fill="none" stroke="#45ace2" stroke-width="0.85"/>
<circle cx="322.5" cy="268.10400000000004" r="2.4" fill="none" stroke="#45ace2" stroke-width="0.85"/>
<circle cx="337.8" cy="260.529" r="2.4" fill="none" stroke="#45ace2" stroke-width="0.85"/>
<circle cx="307.4" cy="286.89000000000004" r="2.4" fill="none" stroke="#45ace2" stroke-width="0.85"/>
<circle cx="322.5" cy="284.466" r="2.4" fill="none" stroke="#45ace2" stroke-width="0.85"/>
<circle cx="337.8" cy="275.37600000000003" r="2.4" fill="none" stroke="#45ace2" stroke-width="0.85"/>
<circle cx="307.4" cy="289.92" r="2.4" fill="none" stroke="#45ace2" stroke-width="0.85"/>
<circle cx="322.5" cy="288.40500000000003" r="2.4" fill="none" stroke="#45ace2" stroke-width="0.85"/>
<circle cx="337.8" cy="283.86" r="2.4" fill="none" stroke="#45ace2" stroke-width="0.85"/>
<circle cx="307.4" cy="291.435" r="2.4" fill="none" stroke="#45ace2" stroke-width="0.85"/>
<circle cx="322.5" cy="290.526" r="2.4" fill="none" stroke="#45ace2" stroke-width="0.85"/>
<circle cx="337.8" cy="289.92" r="2.4" fill="none" stroke="#45ace2" stroke-width="0.85"/>
<circle cx="307.4" cy="292.95000000000005" r="2.4" fill="none" stroke="#45ace2" stroke-width="0.85"/>
<circle cx="322.5" cy="292.95000000000005" r="2.4" fill="none" stroke="#45ace2" stroke-width="0.85"/>
<circle cx="337.8" cy="291.435" r="2.4" fill="none" stroke="#45ace2" stroke-width="0.85"/>
<circle cx="307.4" cy="294.46500000000003" r="2.4" fill="none" stroke="#45ace2" stroke-width="0.85"/>
<circle cx="322.5" cy="295.98" r="2.4" fill="none" stroke="#45ace2" stroke-width="0.85"/>
<circle cx="337.8" cy="292.95000000000005" r="2.4" fill="none" stroke="#45ace2" stroke-width="0.85"/>
<circle cx="307.4" cy="295.98" r="2.4" fill="none" stroke="#45ace2" stroke-width="0.85"/>
<circle cx="322.5" cy="300.52500000000003" r="2.4" fill="none" stroke="#45ace2" stroke-width="0.85"/>
<circle cx="337.8" cy="295.677" r="2.4" fill="none" stroke="#45ace2" stroke-width="0.85"/>
<circle cx="307.4" cy="292.34400000000005" r="2.4" fill="none" stroke="#45ace2" stroke-width="0.85"/>
<circle cx="322.5" cy="294.46500000000003" r="2.4" fill="none" stroke="#45ace2" stroke-width="0.85"/>
<circle cx="337.8" cy="294.16200000000003" r="2.4" fill="none" stroke="#45ace2" stroke-width="0.85"/>
<circle cx="307.4" cy="293.55600000000004" r="2.4" fill="none" stroke="#45ace2" stroke-width="0.85"/>
<circle cx="322.5" cy="291.435" r="2.4" fill="none" stroke="#45ace2" stroke-width="0.85"/>
<circle cx="337.8" cy="293.55600000000004" r="2.4" fill="none" stroke="#45ace2" stroke-width="0.85"/>
<circle cx="307.4" cy="290.526" r="2.4" fill="none" stroke="#45ace2" stroke-width="0.85"/>
<circle cx="322.5" cy="293.55600000000004" r="2.4" fill="none" stroke="#45ace2" stroke-width="0.85"/>
<circle cx="337.8" cy="292.34400000000005" r="2.4" fill="none" stroke="#45ace2" stroke-width="0.85"/>
<circle cx="307.4" cy="295.071" r="2.4" fill="none" stroke="#45ace2" stroke-width="0.85"/>
<circle cx="322.5" cy="292.64700000000005" r="2.4" fill="none" stroke="#45ace2" stroke-width="0.85"/>
<circle cx="337.8" cy="290.526" r="2.4" fill="none" stroke="#45ace2" stroke-width="0.85"/>
<circle cx="307.4" cy="288.40500000000003" r="2.4" fill="none" stroke="#45ace2" stroke-width="0.85"/>
<circle cx="322.5" cy="286.89000000000004" r="2.4" fill="none" stroke="#45ace2" stroke-width="0.85"/>
<circle cx="337.8" cy="294.46500000000003" r="2.4" fill="none" stroke="#45ace2" stroke-width="0.85"/>
<circle cx="307.4" cy="293.85900000000004" r="2.4" fill="none" stroke="#45ace2" stroke-width="0.85"/>
<circle cx="322.5" cy="295.071" r="2.4" fill="none" stroke="#45ace2" stroke-width="0.85"/>
<circle cx="337.8" cy="295.071" r="2.4" fill="none" stroke="#45ace2" stroke-width="0.85"/>
<circle cx="307.4" cy="292.041" r="2.4" fill="none" stroke="#45ace2" stroke-width="0.85"/>
<circle cx="322.5" cy="293.85900000000004" r="2.4" fill="none" stroke="#45ace2" stroke-width="0.85"/>
<circle cx="337.8" cy="291.435" r="2.4" fill="none" stroke="#45ace2" stroke-width="0.85"/>
<rect x="364.8" y="302.41875000000005" width="42.89999999999998" height="3.4087499999999977" fill="#e8e4e4"/>
<line x1="362.3" y1="245.9" x2="362.3" y2="308.8" stroke="#222" stroke-width="1.4"/>
<line x1="359.7" y1="308.1" x2="362.3" y2="308.1" stroke="#222" stroke-width="1.1"/>
<text x="356.3" y="311.0" font-size="8.3" fill="#231f20" text-anchor="end">0</text>
<line x1="359.7" y1="292.95000000000005" x2="362.3" y2="292.95000000000005" stroke="#222" stroke-width="1.1"/>
<text x="356.3" y="295.85" font-size="8.3" fill="#231f20" text-anchor="end">4</text>
<line x1="359.7" y1="277.8" x2="362.3" y2="277.8" stroke="#222" stroke-width="1.1"/>
<text x="356.3" y="280.7" font-size="8.3" fill="#231f20" text-anchor="end">8</text>
<line x1="359.7" y1="262.65000000000003" x2="362.3" y2="262.65000000000003" stroke="#222" stroke-width="1.1"/>
<text x="356.3" y="265.55" font-size="8.3" fill="#231f20" text-anchor="end">12</text>
<line x1="359.7" y1="247.50000000000003" x2="362.3" y2="247.50000000000003" stroke="#222" stroke-width="1.1"/>
<text x="356.3" y="250.40000000000003" font-size="8.3" fill="#231f20" text-anchor="end">16</text>
<line x1="361.6" y1="308.1" x2="407.7" y2="308.1" stroke="#222" stroke-width="1.4"/>
<line x1="370.1" y1="308.1" x2="370.1" y2="310.70000000000005" stroke="#222" stroke-width="1.1"/>
<text x="370.1" y="321.40000000000003" font-size="8.3" fill="#231f20" text-anchor="middle">6</text>
<line x1="385.2" y1="308.1" x2="385.2" y2="310.70000000000005" stroke="#222" stroke-width="1.1"/>
<text x="385.2" y="321.40000000000003" font-size="8.3" fill="#231f20" text-anchor="middle">12</text>
<line x1="400.7" y1="308.1" x2="400.7" y2="310.70000000000005" stroke="#222" stroke-width="1.1"/>
<text x="400.7" y="321.40000000000003" font-size="8.3" fill="#231f20" text-anchor="middle">18</text>
<polyline points="370.1,304.3125 385.2,302.41875000000005 400.7,289.92" fill="none" stroke="#45ace2" stroke-width="0.8" stroke-dasharray="1.6,1.3"/>
<polyline points="370.1,305.07000000000005 385.2,303.555 400.7,302.41875000000005" fill="none" stroke="#45ace2" stroke-width="0.8" stroke-dasharray="1.6,1.3"/>
<polyline points="370.1,306.20625 385.2,305.07000000000005 400.7,303.555" fill="none" stroke="#45ace2" stroke-width="0.8" stroke-dasharray="1.6,1.3"/>
<polyline points="370.1,303.93375000000003 385.2,304.3125 400.7,305.07000000000005" fill="none" stroke="#45ace2" stroke-width="0.8" stroke-dasharray="1.6,1.3"/>
<polyline points="370.1,305.82750000000004 385.2,303.17625000000004 400.7,304.3125" fill="none" stroke="#45ace2" stroke-width="0.8" stroke-dasharray="1.6,1.3"/>
<circle cx="370.1" cy="304.3125" r="2.4" fill="none" stroke="#45ace2" stroke-width="0.85"/>
<circle cx="385.2" cy="302.41875000000005" r="2.4" fill="none" stroke="#45ace2" stroke-width="0.85"/>
<circle cx="400.7" cy="289.92" r="2.4" fill="none" stroke="#45ace2" stroke-width="0.85"/>
<circle cx="370.1" cy="305.07000000000005" r="2.4" fill="none" stroke="#45ace2" stroke-width="0.85"/>
<circle cx="385.2" cy="303.555" r="2.4" fill="none" stroke="#45ace2" stroke-width="0.85"/>
<circle cx="400.7" cy="302.41875000000005" r="2.4" fill="none" stroke="#45ace2" stroke-width="0.85"/>
<circle cx="370.1" cy="306.20625" r="2.4" fill="none" stroke="#45ace2" stroke-width="0.85"/>
<circle cx="385.2" cy="305.07000000000005" r="2.4" fill="none" stroke="#45ace2" stroke-width="0.85"/>
<circle cx="400.7" cy="303.555" r="2.4" fill="none" stroke="#45ace2" stroke-width="0.85"/>
<circle cx="370.1" cy="303.93375000000003" r="2.4" fill="none" stroke="#45ace2" stroke-width="0.85"/>
<circle cx="385.2" cy="304.3125" r="2.4" fill="none" stroke="#45ace2" stroke-width="0.85"/>
<circle cx="400.7" cy="305.07000000000005" r="2.4" fill="none" stroke="#45ace2" stroke-width="0.85"/>
<circle cx="370.1" cy="305.82750000000004" r="2.4" fill="none" stroke="#45ace2" stroke-width="0.85"/>
<circle cx="385.2" cy="303.17625000000004" r="2.4" fill="none" stroke="#45ace2" stroke-width="0.85"/>
<circle cx="400.7" cy="304.3125" r="2.4" fill="none" stroke="#45ace2" stroke-width="0.85"/>
<line x1="430.1" y1="245.9" x2="430.1" y2="308.8" stroke="#222" stroke-width="1.4"/>
<line x1="427.5" y1="308.1" x2="430.1" y2="308.1" stroke="#222" stroke-width="1.1"/>
<text x="424.1" y="311.0" font-size="8.3" fill="#231f20" text-anchor="end">0</text>
<line x1="427.5" y1="295.98" x2="430.1" y2="295.98" stroke="#222" stroke-width="1.1"/>
<text x="424.1" y="298.88" font-size="8.3" fill="#231f20" text-anchor="end">10</text>
<line x1="427.5" y1="283.86" x2="430.1" y2="283.86" stroke="#222" stroke-width="1.1"/>
<text x="424.1" y="286.76" font-size="8.3" fill="#231f20" text-anchor="end">20</text>
<line x1="427.5" y1="271.74" x2="430.1" y2="271.74" stroke="#222" stroke-width="1.1"/>
<text x="424.1" y="274.64" font-size="8.3" fill="#231f20" text-anchor="end">30</text>
<line x1="427.5" y1="259.62" x2="430.1" y2="259.62" stroke="#222" stroke-width="1.1"/>
<text x="424.1" y="262.52" font-size="8.3" fill="#231f20" text-anchor="end">40</text>
<line x1="427.5" y1="247.50000000000003" x2="430.1" y2="247.50000000000003" stroke="#222" stroke-width="1.1"/>
<text x="424.1" y="250.40000000000003" font-size="8.3" fill="#231f20" text-anchor="end">50</text>
<line x1="429.40000000000003" y1="308.1" x2="475.6" y2="308.1" stroke="#222" stroke-width="1.4"/>
<line x1="437.5" y1="308.1" x2="437.5" y2="310.70000000000005" stroke="#222" stroke-width="1.1"/>
<text x="437.5" y="321.40000000000003" font-size="8.3" fill="#231f20" text-anchor="middle">6</text>
<line x1="453.4" y1="308.1" x2="453.4" y2="310.70000000000005" stroke="#222" stroke-width="1.1"/>
<text x="453.4" y="321.40000000000003" font-size="8.3" fill="#231f20" text-anchor="middle">12</text>
<line x1="468.8" y1="308.1" x2="468.8" y2="310.70000000000005" stroke="#222" stroke-width="1.1"/>
<text x="468.8" y="321.40000000000003" font-size="8.3" fill="#231f20" text-anchor="middle">18</text>
<polyline points="437.5,306.88800000000003 453.4,305.67600000000004 468.8,304.464" fill="none" stroke="#45ace2" stroke-width="0.8" stroke-dasharray="1.6,1.3"/>
<polyline points="437.5,307.494 453.4,306.88800000000003 468.8,305.67600000000004" fill="none" stroke="#45ace2" stroke-width="0.8" stroke-dasharray="1.6,1.3"/>
<polyline points="437.5,307.1304 453.4,306.28200000000004 468.8,306.88800000000003" fill="none" stroke="#45ace2" stroke-width="0.8" stroke-dasharray="1.6,1.3"/>
<polyline points="437.5,307.85760000000005 453.4,307.494 468.8,307.494" fill="none" stroke="#45ace2" stroke-width="0.8" stroke-dasharray="1.6,1.3"/>
<circle cx="437.5" cy="306.88800000000003" r="2.4" fill="none" stroke="#45ace2" stroke-width="0.85"/>
<circle cx="453.4" cy="305.67600000000004" r="2.4" fill="none" stroke="#45ace2" stroke-width="0.85"/>
<circle cx="468.8" cy="304.464" r="2.4" fill="none" stroke="#45ace2" stroke-width="0.85"/>
<circle cx="437.5" cy="307.494" r="2.4" fill="none" stroke="#45ace2" stroke-width="0.85"/>
<circle cx="453.4" cy="306.88800000000003" r="2.4" fill="none" stroke="#45ace2" stroke-width="0.85"/>
<circle cx="468.8" cy="305.67600000000004" r="2.4" fill="none" stroke="#45ace2" stroke-width="0.85"/>
<circle cx="437.5" cy="307.1304" r="2.4" fill="none" stroke="#45ace2" stroke-width="0.85"/>
<circle cx="453.4" cy="306.28200000000004" r="2.4" fill="none" stroke="#45ace2" stroke-width="0.85"/>
<circle cx="468.8" cy="306.88800000000003" r="2.4" fill="none" stroke="#45ace2" stroke-width="0.85"/>
<circle cx="437.5" cy="307.85760000000005" r="2.4" fill="none" stroke="#45ace2" stroke-width="0.85"/>
<circle cx="453.4" cy="307.494" r="2.4" fill="none" stroke="#45ace2" stroke-width="0.85"/>
<circle cx="468.8" cy="307.494" r="2.4" fill="none" stroke="#45ace2" stroke-width="0.85"/>
<text x="480.9" y="315.2" font-size="8.7" fill="#231f20" stroke="#231f20" stroke-width="0.1" textLength="30.2" lengthAdjust="spacingAndGlyphs">weeks of</text>
<text x="480.9" y="325" font-size="8.7" fill="#231f20" stroke="#231f20" stroke-width="0.1" textLength="32.3" lengthAdjust="spacingAndGlyphs">treatment</text>
<text x="12.8" y="339.2" font-size="8.6" fill="#231f20" stroke="#231f20" stroke-width="0.1" textLength="23.4" lengthAdjust="spacingAndGlyphs">%GFP</text>
<text x="60.7" y="339.2" font-size="8.6" fill="#231f20" stroke="#231f20" stroke-width="0.1" text-anchor="middle" textLength="24.5" lengthAdjust="spacingAndGlyphs">Ter119</text>
<text x="129.1" y="339.2" font-size="8.6" fill="#231f20" stroke="#231f20" stroke-width="0.1" text-anchor="middle" textLength="20.8" lengthAdjust="spacingAndGlyphs">CD61</text>
<text x="195.6" y="339.2" font-size="8.6" fill="#231f20" stroke="#231f20" stroke-width="0.1" text-anchor="middle" textLength="15.4" lengthAdjust="spacingAndGlyphs">Gr-1</text>
<line x1="37.5" y1="344.9" x2="37.5" y2="409.09999999999997" stroke="#222" stroke-width="1.4"/>
<line x1="34.9" y1="408.4" x2="37.5" y2="408.4" stroke="#222" stroke-width="1.1"/>
<text x="31.5" y="411.29999999999995" font-size="8.3" fill="#231f20" text-anchor="end">0</text>
<line x1="34.9" y1="396.12" x2="37.5" y2="396.12" stroke="#222" stroke-width="1.1"/>
<text x="31.5" y="399.02" font-size="8.3" fill="#231f20" text-anchor="end">20</text>
<line x1="34.9" y1="383.84" x2="37.5" y2="383.84" stroke="#222" stroke-width="1.1"/>
<text x="31.5" y="386.73999999999995" font-size="8.3" fill="#231f20" text-anchor="end">40</text>
<line x1="34.9" y1="371.56" x2="37.5" y2="371.56" stroke="#222" stroke-width="1.1"/>
<text x="31.5" y="374.46" font-size="8.3" fill="#231f20" text-anchor="end">60</text>
<line x1="34.9" y1="359.28" x2="37.5" y2="359.28" stroke="#222" stroke-width="1.1"/>
<text x="31.5" y="362.17999999999995" font-size="8.3" fill="#231f20" text-anchor="end">80</text>
<line x1="34.9" y1="347.0" x2="37.5" y2="347.0" stroke="#222" stroke-width="1.1"/>
<text x="31.5" y="349.9" font-size="8.3" fill="#231f20" text-anchor="end">100</text>
<line x1="36.8" y1="408.4" x2="83.7" y2="408.4" stroke="#222" stroke-width="1.4"/>
<line x1="46.9" y1="408.4" x2="46.9" y2="411.0" stroke="#222" stroke-width="1.1"/>
<text x="46.9" y="421" font-size="8.3" fill="#231f20" text-anchor="middle">6</text>
<line x1="60.7" y1="408.4" x2="60.7" y2="411.0" stroke="#222" stroke-width="1.1"/>
<text x="60.7" y="421" font-size="8.3" fill="#231f20" text-anchor="middle">12</text>
<line x1="74.6" y1="408.4" x2="74.6" y2="411.0" stroke="#222" stroke-width="1.1"/>
<text x="74.6" y="421" font-size="8.3" fill="#231f20" text-anchor="middle">18</text>
<polyline points="46.9,380.15599999999995 60.7,359.28 74.6,356.21" fill="none" stroke="#3465a5" stroke-width="0.9"/>
<polyline points="46.9,393.04999999999995 60.7,378.928 74.6,382.61199999999997" fill="none" stroke="#3465a5" stroke-width="0.9"/>
<line x1="46.9" y1="375.85799999999995" x2="46.9" y2="384.45399999999995" stroke="#7d9fc8" stroke-width="0.9"/>
<line x1="44.9" y1="375.85799999999995" x2="48.9" y2="375.85799999999995" stroke="#7d9fc8" stroke-width="0.9"/>
<line x1="44.9" y1="384.45399999999995" x2="48.9" y2="384.45399999999995" stroke="#7d9fc8" stroke-width="0.9"/>
<line x1="60.7" y1="355.596" x2="60.7" y2="362.964" stroke="#7d9fc8" stroke-width="0.9"/>
<line x1="58.7" y1="355.596" x2="62.7" y2="355.596" stroke="#7d9fc8" stroke-width="0.9"/>
<line x1="58.7" y1="362.964" x2="62.7" y2="362.964" stroke="#7d9fc8" stroke-width="0.9"/>
<line x1="74.6" y1="351.912" x2="74.6" y2="360.508" stroke="#7d9fc8" stroke-width="0.9"/>
<line x1="72.6" y1="351.912" x2="76.6" y2="351.912" stroke="#7d9fc8" stroke-width="0.9"/>
<line x1="72.6" y1="360.508" x2="76.6" y2="360.508" stroke="#7d9fc8" stroke-width="0.9"/>
<line x1="46.9" y1="386.90999999999997" x2="46.9" y2="399.19" stroke="#7d9fc8" stroke-width="0.9"/>
<line x1="44.9" y1="386.90999999999997" x2="48.9" y2="386.90999999999997" stroke="#7d9fc8" stroke-width="0.9"/>
<line x1="44.9" y1="399.19" x2="48.9" y2="399.19" stroke="#7d9fc8" stroke-width="0.9"/>
<line x1="60.7" y1="367.262" x2="60.7" y2="390.594" stroke="#7d9fc8" stroke-width="0.9"/>
<line x1="58.7" y1="367.262" x2="62.7" y2="367.262" stroke="#7d9fc8" stroke-width="0.9"/>
<line x1="58.7" y1="390.594" x2="62.7" y2="390.594" stroke="#7d9fc8" stroke-width="0.9"/>
<line x1="74.6" y1="376.472" x2="74.6" y2="388.75199999999995" stroke="#7d9fc8" stroke-width="0.9"/>
<line x1="72.6" y1="376.472" x2="76.6" y2="376.472" stroke="#7d9fc8" stroke-width="0.9"/>
<line x1="72.6" y1="388.75199999999995" x2="76.6" y2="388.75199999999995" stroke="#7d9fc8" stroke-width="0.9"/>
<circle cx="46.9" cy="380.15599999999995" r="2.4" fill="#173f78" stroke="none" stroke-width="1"/>
<circle cx="60.7" cy="359.28" r="2.4" fill="#173f78" stroke="none" stroke-width="1"/>
<circle cx="74.6" cy="356.21" r="2.4" fill="#173f78" stroke="none" stroke-width="1"/>
<circle cx="46.9" cy="393.04999999999995" r="2.4" fill="#173f78" stroke="none" stroke-width="1"/>
<circle cx="60.7" cy="378.928" r="2.4" fill="#173f78" stroke="none" stroke-width="1"/>
<circle cx="74.6" cy="382.61199999999997" r="2.4" fill="#173f78" stroke="none" stroke-width="1"/>
<line x1="106.6" y1="344.9" x2="106.6" y2="409.09999999999997" stroke="#222" stroke-width="1.4"/>
<line x1="104.0" y1="408.4" x2="106.6" y2="408.4" stroke="#222" stroke-width="1.1"/>
<text x="100.6" y="411.29999999999995" font-size="8.3" fill="#231f20" text-anchor="end">0</text>
<line x1="104.0" y1="396.12" x2="106.6" y2="396.12" stroke="#222" stroke-width="1.1"/>
<text x="100.6" y="399.02" font-size="8.3" fill="#231f20" text-anchor="end">20</text>
<line x1="104.0" y1="383.84" x2="106.6" y2="383.84" stroke="#222" stroke-width="1.1"/>
<text x="100.6" y="386.73999999999995" font-size="8.3" fill="#231f20" text-anchor="end">40</text>
<line x1="104.0" y1="371.56" x2="106.6" y2="371.56" stroke="#222" stroke-width="1.1"/>
<text x="100.6" y="374.46" font-size="8.3" fill="#231f20" text-anchor="end">60</text>
<line x1="104.0" y1="359.28" x2="106.6" y2="359.28" stroke="#222" stroke-width="1.1"/>
<text x="100.6" y="362.17999999999995" font-size="8.3" fill="#231f20" text-anchor="end">80</text>
<line x1="104.0" y1="347.0" x2="106.6" y2="347.0" stroke="#222" stroke-width="1.1"/>
<text x="100.6" y="349.9" font-size="8.3" fill="#231f20" text-anchor="end">100</text>
<line x1="105.89999999999999" y1="408.4" x2="152.5" y2="408.4" stroke="#222" stroke-width="1.4"/>
<line x1="115.8" y1="408.4" x2="115.8" y2="411.0" stroke="#222" stroke-width="1.1"/>
<text x="115.8" y="421" font-size="8.3" fill="#231f20" text-anchor="middle">6</text>
<line x1="129.7" y1="408.4" x2="129.7" y2="411.0" stroke="#222" stroke-width="1.1"/>
<text x="129.7" y="421" font-size="8.3" fill="#231f20" text-anchor="middle">12</text>
<line x1="143.5" y1="408.4" x2="143.5" y2="411.0" stroke="#222" stroke-width="1.1"/>
<text x="143.5" y="421" font-size="8.3" fill="#231f20" text-anchor="middle">18</text>
<polyline points="115.8,391.20799999999997 129.7,374.01599999999996 143.5,368.49" fill="none" stroke="#3465a5" stroke-width="0.9"/>
<polyline points="115.8,402.26 129.7,399.19 143.5,404.102" fill="none" stroke="#3465a5" stroke-width="0.9"/>
<line x1="115.8" y1="387.524" x2="115.8" y2="394.892" stroke="#7d9fc8" stroke-width="0.9"/>
<line x1="113.8" y1="387.524" x2="117.8" y2="387.524" stroke="#7d9fc8" stroke-width="0.9"/>
<line x1="113.8" y1="394.892" x2="117.8" y2="394.892" stroke="#7d9fc8" stroke-width="0.9"/>
<line x1="129.7" y1="367.876" x2="129.7" y2="380.15599999999995" stroke="#7d9fc8" stroke-width="0.9"/>
<line x1="127.69999999999999" y1="367.876" x2="131.7" y2="367.876" stroke="#7d9fc8" stroke-width="0.9"/>
<line x1="127.69999999999999" y1="380.15599999999995" x2="131.7" y2="380.15599999999995" stroke="#7d9fc8" stroke-width="0.9"/>
<line x1="143.5" y1="361.736" x2="143.5" y2="375.24399999999997" stroke="#7d9fc8" stroke-width="0.9"/>
<line x1="141.5" y1="361.736" x2="145.5" y2="361.736" stroke="#7d9fc8" stroke-width="0.9"/>
<line x1="141.5" y1="375.24399999999997" x2="145.5" y2="375.24399999999997" stroke="#7d9fc8" stroke-width="0.9"/>
<line x1="115.8" y1="399.804" x2="115.8" y2="404.71599999999995" stroke="#7d9fc8" stroke-width="0.9"/>
<line x1="113.8" y1="399.804" x2="117.8" y2="399.804" stroke="#7d9fc8" stroke-width="0.9"/>
<line x1="113.8" y1="404.71599999999995" x2="117.8" y2="404.71599999999995" stroke="#7d9fc8" stroke-width="0.9"/>
<line x1="129.7" y1="396.734" x2="129.7" y2="401.64599999999996" stroke="#7d9fc8" stroke-width="0.9"/>
<line x1="127.69999999999999" y1="396.734" x2="131.7" y2="396.734" stroke="#7d9fc8" stroke-width="0.9"/>
<line x1="127.69999999999999" y1="401.64599999999996" x2="131.7" y2="401.64599999999996" stroke="#7d9fc8" stroke-width="0.9"/>
<line x1="143.5" y1="402.87399999999997" x2="143.5" y2="405.33" stroke="#7d9fc8" stroke-width="0.9"/>
<line x1="141.5" y1="402.87399999999997" x2="145.5" y2="402.87399999999997" stroke="#7d9fc8" stroke-width="0.9"/>
<line x1="141.5" y1="405.33" x2="145.5" y2="405.33" stroke="#7d9fc8" stroke-width="0.9"/>
<circle cx="115.8" cy="391.20799999999997" r="2.4" fill="#173f78" stroke="none" stroke-width="1"/>
<circle cx="129.7" cy="374.01599999999996" r="2.4" fill="#173f78" stroke="none" stroke-width="1"/>
<circle cx="143.5" cy="368.49" r="2.4" fill="#173f78" stroke="none" stroke-width="1"/>
<circle cx="115.8" cy="402.26" r="2.4" fill="#173f78" stroke="none" stroke-width="1"/>
<circle cx="129.7" cy="399.19" r="2.4" fill="#173f78" stroke="none" stroke-width="1"/>
<circle cx="143.5" cy="404.102" r="2.4" fill="#173f78" stroke="none" stroke-width="1"/>
<line x1="173.1" y1="344.9" x2="173.1" y2="409.09999999999997" stroke="#222" stroke-width="1.4"/>
<line x1="170.5" y1="408.4" x2="173.1" y2="408.4" stroke="#222" stroke-width="1.1"/>
<text x="167.1" y="411.29999999999995" font-size="8.3" fill="#231f20" text-anchor="end">0</text>
<line x1="170.5" y1="396.12" x2="173.1" y2="396.12" stroke="#222" stroke-width="1.1"/>
<text x="167.1" y="399.02" font-size="8.3" fill="#231f20" text-anchor="end">20</text>
<line x1="170.5" y1="383.84" x2="173.1" y2="383.84" stroke="#222" stroke-width="1.1"/>
<text x="167.1" y="386.73999999999995" font-size="8.3" fill="#231f20" text-anchor="end">40</text>
<line x1="170.5" y1="371.56" x2="173.1" y2="371.56" stroke="#222" stroke-width="1.1"/>
<text x="167.1" y="374.46" font-size="8.3" fill="#231f20" text-anchor="end">60</text>
<line x1="170.5" y1="359.28" x2="173.1" y2="359.28" stroke="#222" stroke-width="1.1"/>
<text x="167.1" y="362.17999999999995" font-size="8.3" fill="#231f20" text-anchor="end">80</text>
<line x1="170.5" y1="347.0" x2="173.1" y2="347.0" stroke="#222" stroke-width="1.1"/>
<text x="167.1" y="349.9" font-size="8.3" fill="#231f20" text-anchor="end">100</text>
<line x1="172.4" y1="408.4" x2="217.7" y2="408.4" stroke="#222" stroke-width="1.4"/>
<line x1="182.1" y1="408.4" x2="182.1" y2="411.0" stroke="#222" stroke-width="1.1"/>
<text x="182.1" y="421" font-size="8.3" fill="#231f20" text-anchor="middle">6</text>
<line x1="196" y1="408.4" x2="196" y2="411.0" stroke="#222" stroke-width="1.1"/>
<text x="196" y="421" font-size="8.3" fill="#231f20" text-anchor="middle">12</text>
<line x1="209.6" y1="408.4" x2="209.6" y2="411.0" stroke="#222" stroke-width="1.1"/>
<text x="209.6" y="421" font-size="8.3" fill="#231f20" text-anchor="middle">18</text>
<polyline points="182.1,388.138 196,364.806 209.6,368.49" fill="none" stroke="#3465a5" stroke-width="0.9"/>
<polyline points="182.1,404.71599999999995 196,385.68199999999996 209.6,396.734" fill="none" stroke="#3465a5" stroke-width="0.9"/>
<line x1="182.1" y1="383.226" x2="182.1" y2="393.04999999999995" stroke="#7d9fc8" stroke-width="0.9"/>
<line x1="180.1" y1="383.226" x2="184.1" y2="383.226" stroke="#7d9fc8" stroke-width="0.9"/>
<line x1="180.1" y1="393.04999999999995" x2="184.1" y2="393.04999999999995" stroke="#7d9fc8" stroke-width="0.9"/>
<line x1="196" y1="361.12199999999996" x2="196" y2="368.49" stroke="#7d9fc8" stroke-width="0.9"/>
<line x1="194" y1="361.12199999999996" x2="198" y2="361.12199999999996" stroke="#7d9fc8" stroke-width="0.9"/>
<line x1="194" y1="368.49" x2="198" y2="368.49" stroke="#7d9fc8" stroke-width="0.9"/>
<line x1="209.6" y1="363.578" x2="209.6" y2="373.402" stroke="#7d9fc8" stroke-width="0.9"/>
<line x1="207.6" y1="363.578" x2="211.6" y2="363.578" stroke="#7d9fc8" stroke-width="0.9"/>
<line x1="207.6" y1="373.402" x2="211.6" y2="373.402" stroke="#7d9fc8" stroke-width="0.9"/>
<line x1="182.1" y1="403.488" x2="182.1" y2="405.94399999999996" stroke="#7d9fc8" stroke-width="0.9"/>
<line x1="180.1" y1="403.488" x2="184.1" y2="403.488" stroke="#7d9fc8" stroke-width="0.9"/>
<line x1="180.1" y1="405.94399999999996" x2="184.1" y2="405.94399999999996" stroke="#7d9fc8" stroke-width="0.9"/>
<line x1="196" y1="377.08599999999996" x2="196" y2="394.27799999999996" stroke="#7d9fc8" stroke-width="0.9"/>
<line x1="194" y1="377.08599999999996" x2="198" y2="377.08599999999996" stroke="#7d9fc8" stroke-width="0.9"/>
<line x1="194" y1="394.27799999999996" x2="198" y2="394.27799999999996" stroke="#7d9fc8" stroke-width="0.9"/>
<line x1="209.6" y1="390.594" x2="209.6" y2="402.87399999999997" stroke="#7d9fc8" stroke-width="0.9"/>
<line x1="207.6" y1="390.594" x2="211.6" y2="390.594" stroke="#7d9fc8" stroke-width="0.9"/>
<line x1="207.6" y1="402.87399999999997" x2="211.6" y2="402.87399999999997" stroke="#7d9fc8" stroke-width="0.9"/>
<circle cx="182.1" cy="388.138" r="2.4" fill="#173f78" stroke="none" stroke-width="1"/>
<circle cx="196" cy="364.806" r="2.4" fill="#173f78" stroke="none" stroke-width="1"/>
<circle cx="209.6" cy="368.49" r="2.4" fill="#173f78" stroke="none" stroke-width="1"/>
<circle cx="182.1" cy="404.71599999999995" r="2.4" fill="#173f78" stroke="none" stroke-width="1"/>
<circle cx="196" cy="385.68199999999996" r="2.4" fill="#173f78" stroke="none" stroke-width="1"/>
<circle cx="209.6" cy="396.734" r="2.4" fill="#173f78" stroke="none" stroke-width="1"/>
<text x="215.8" y="370.6" font-size="8.8" fill="#231f20" stroke="#231f20" stroke-width="0.1" textLength="17.7" lengthAdjust="spacingAndGlyphs">MPN</text>
<text x="215.8" y="401.2" font-size="8.8" fill="#231f20" stroke="#231f20" stroke-width="0.1" textLength="28.8" lengthAdjust="spacingAndGlyphs">no MPN</text>
<text x="271.9" y="339.2" font-size="8.6" fill="#231f20" stroke="#231f20" stroke-width="0.1" textLength="23" lengthAdjust="spacingAndGlyphs">%GFP</text>
<text x="323" y="339.2" font-size="8.6" fill="#231f20" stroke="#231f20" stroke-width="0.1" text-anchor="middle" textLength="24.2" lengthAdjust="spacingAndGlyphs">Ter119</text>
<text x="384.8" y="339.2" font-size="8.6" fill="#231f20" stroke="#231f20" stroke-width="0.1" text-anchor="middle" textLength="20.4" lengthAdjust="spacingAndGlyphs">CD61</text>
<text x="458.5" y="339.2" font-size="8.6" fill="#231f20" stroke="#231f20" stroke-width="0.1" text-anchor="middle" textLength="14.5" lengthAdjust="spacingAndGlyphs">Gr-1</text>
<line x1="299.6" y1="344.9" x2="299.6" y2="409.09999999999997" stroke="#222" stroke-width="1.4"/>
<line x1="297.0" y1="408.4" x2="299.6" y2="408.4" stroke="#222" stroke-width="1.1"/>
<text x="293.6" y="411.29999999999995" font-size="8.3" fill="#231f20" text-anchor="end">0</text>
<line x1="297.0" y1="396.12" x2="299.6" y2="396.12" stroke="#222" stroke-width="1.1"/>
<text x="293.6" y="399.02" font-size="8.3" fill="#231f20" text-anchor="end">20</text>
<line x1="297.0" y1="383.84" x2="299.6" y2="383.84" stroke="#222" stroke-width="1.1"/>
<text x="293.6" y="386.73999999999995" font-size="8.3" fill="#231f20" text-anchor="end">40</text>
<line x1="297.0" y1="371.56" x2="299.6" y2="371.56" stroke="#222" stroke-width="1.1"/>
<text x="293.6" y="374.46" font-size="8.3" fill="#231f20" text-anchor="end">60</text>
<line x1="297.0" y1="359.28" x2="299.6" y2="359.28" stroke="#222" stroke-width="1.1"/>
<text x="293.6" y="362.17999999999995" font-size="8.3" fill="#231f20" text-anchor="end">80</text>
<line x1="297.0" y1="347.0" x2="299.6" y2="347.0" stroke="#222" stroke-width="1.1"/>
<text x="293.6" y="349.9" font-size="8.3" fill="#231f20" text-anchor="end">100</text>
<line x1="298.90000000000003" y1="408.4" x2="345.5" y2="408.4" stroke="#222" stroke-width="1.4"/>
<line x1="309.1" y1="408.4" x2="309.1" y2="411.0" stroke="#222" stroke-width="1.1"/>
<text x="309.1" y="421" font-size="8.3" fill="#231f20" text-anchor="middle">6</text>
<line x1="323" y1="408.4" x2="323" y2="411.0" stroke="#222" stroke-width="1.1"/>
<text x="323" y="421" font-size="8.3" fill="#231f20" text-anchor="middle">12</text>
<line x1="336.8" y1="408.4" x2="336.8" y2="411.0" stroke="#222" stroke-width="1.1"/>
<text x="336.8" y="421" font-size="8.3" fill="#231f20" text-anchor="middle">18</text>
<polyline points="309.1,392.436 323,366.034 336.8,349.45599999999996" fill="none" stroke="#45ace2" stroke-width="0.9" stroke-dasharray="1.6,1.3"/>
<polyline points="309.1,382.61199999999997 323,392.436 336.8,406.558" fill="none" stroke="#45ace2" stroke-width="0.9" stroke-dasharray="1.6,1.3"/>
<line x1="309.1" y1="389.366" x2="309.1" y2="395.506" stroke="#6cbde8" stroke-width="0.9"/>
<line x1="307.1" y1="389.366" x2="311.1" y2="389.366" stroke="#6cbde8" stroke-width="0.9"/>
<line x1="307.1" y1="395.506" x2="311.1" y2="395.506" stroke="#6cbde8" stroke-width="0.9"/>
<line x1="323" y1="357.438" x2="323" y2="374.63" stroke="#6cbde8" stroke-width="0.9"/>
<line x1="321" y1="357.438" x2="325" y2="357.438" stroke="#6cbde8" stroke-width="0.9"/>
<line x1="321" y1="374.63" x2="325" y2="374.63" stroke="#6cbde8" stroke-width="0.9"/>
<line x1="309.1" y1="377.7" x2="309.1" y2="387.524" stroke="#6cbde8" stroke-width="0.9"/>
<line x1="307.1" y1="377.7" x2="311.1" y2="377.7" stroke="#6cbde8" stroke-width="0.9"/>
<line x1="307.1" y1="387.524" x2="311.1" y2="387.524" stroke="#6cbde8" stroke-width="0.9"/>
<line x1="323" y1="385.68199999999996" x2="323" y2="399.19" stroke="#6cbde8" stroke-width="0.9"/>
<line x1="321" y1="385.68199999999996" x2="325" y2="385.68199999999996" stroke="#6cbde8" stroke-width="0.9"/>
<line x1="321" y1="399.19" x2="325" y2="399.19" stroke="#6cbde8" stroke-width="0.9"/>
<line x1="336.8" y1="404.71599999999995" x2="336.8" y2="408.4" stroke="#6cbde8" stroke-width="0.9"/>
<line x1="334.8" y1="404.71599999999995" x2="338.8" y2="404.71599999999995" stroke="#6cbde8" stroke-width="0.9"/>
<line x1="334.8" y1="408.4" x2="338.8" y2="408.4" stroke="#6cbde8" stroke-width="0.9"/>
<circle cx="309.1" cy="392.436" r="2.5" fill="none" stroke="#45ace2" stroke-width="0.9"/>
<circle cx="323" cy="366.034" r="2.5" fill="none" stroke="#45ace2" stroke-width="0.9"/>
<circle cx="336.8" cy="349.45599999999996" r="2.5" fill="none" stroke="#45ace2" stroke-width="0.9"/>
<circle cx="309.1" cy="382.61199999999997" r="2.5" fill="none" stroke="#45ace2" stroke-width="0.9"/>
<circle cx="323" cy="392.436" r="2.5" fill="none" stroke="#45ace2" stroke-width="0.9"/>
<circle cx="336.8" cy="406.558" r="2.5" fill="none" stroke="#45ace2" stroke-width="0.9"/>
<line x1="362.2" y1="344.9" x2="362.2" y2="409.09999999999997" stroke="#222" stroke-width="1.4"/>
<line x1="359.59999999999997" y1="408.4" x2="362.2" y2="408.4" stroke="#222" stroke-width="1.1"/>
<text x="356.2" y="411.29999999999995" font-size="8.3" fill="#231f20" text-anchor="end">0</text>
<line x1="359.59999999999997" y1="396.12" x2="362.2" y2="396.12" stroke="#222" stroke-width="1.1"/>
<text x="356.2" y="399.02" font-size="8.3" fill="#231f20" text-anchor="end">20</text>
<line x1="359.59999999999997" y1="383.84" x2="362.2" y2="383.84" stroke="#222" stroke-width="1.1"/>
<text x="356.2" y="386.73999999999995" font-size="8.3" fill="#231f20" text-anchor="end">40</text>
<line x1="359.59999999999997" y1="371.56" x2="362.2" y2="371.56" stroke="#222" stroke-width="1.1"/>
<text x="356.2" y="374.46" font-size="8.3" fill="#231f20" text-anchor="end">60</text>
<line x1="359.59999999999997" y1="359.28" x2="362.2" y2="359.28" stroke="#222" stroke-width="1.1"/>
<text x="356.2" y="362.17999999999995" font-size="8.3" fill="#231f20" text-anchor="end">80</text>
<line x1="359.59999999999997" y1="347.0" x2="362.2" y2="347.0" stroke="#222" stroke-width="1.1"/>
<text x="356.2" y="349.9" font-size="8.3" fill="#231f20" text-anchor="end">100</text>
<line x1="361.5" y1="408.4" x2="407.5" y2="408.4" stroke="#222" stroke-width="1.4"/>
<line x1="371.2" y1="408.4" x2="371.2" y2="411.0" stroke="#222" stroke-width="1.1"/>
<text x="371.2" y="421" font-size="8.3" fill="#231f20" text-anchor="middle">6</text>
<line x1="385.3" y1="408.4" x2="385.3" y2="411.0" stroke="#222" stroke-width="1.1"/>
<text x="385.3" y="421" font-size="8.3" fill="#231f20" text-anchor="middle">12</text>
<line x1="398.8" y1="408.4" x2="398.8" y2="411.0" stroke="#222" stroke-width="1.1"/>
<text x="398.8" y="421" font-size="8.3" fill="#231f20" text-anchor="middle">18</text>
<polyline points="371.2,391.822 385.3,374.63 398.8,366.64799999999997" fill="none" stroke="#45ace2" stroke-width="0.9" stroke-dasharray="1.6,1.3"/>
<polyline points="371.2,394.27799999999996 385.3,408.4 398.8,408.4" fill="none" stroke="#45ace2" stroke-width="0.9" stroke-dasharray="1.6,1.3"/>
<line x1="371.2" y1="386.296" x2="371.2" y2="397.34799999999996" stroke="#6cbde8" stroke-width="0.9"/>
<line x1="369.2" y1="386.296" x2="373.2" y2="386.296" stroke="#6cbde8" stroke-width="0.9"/>
<line x1="369.2" y1="397.34799999999996" x2="373.2" y2="397.34799999999996" stroke="#6cbde8" stroke-width="0.9"/>
<line x1="385.3" y1="364.192" x2="385.3" y2="385.068" stroke="#6cbde8" stroke-width="0.9"/>
<line x1="383.3" y1="364.192" x2="387.3" y2="364.192" stroke="#6cbde8" stroke-width="0.9"/>
<line x1="383.3" y1="385.068" x2="387.3" y2="385.068" stroke="#6cbde8" stroke-width="0.9"/>
<line x1="398.8" y1="354.98199999999997" x2="398.8" y2="378.31399999999996" stroke="#6cbde8" stroke-width="0.9"/>
<line x1="396.8" y1="354.98199999999997" x2="400.8" y2="354.98199999999997" stroke="#6cbde8" stroke-width="0.9"/>
<line x1="396.8" y1="378.31399999999996" x2="400.8" y2="378.31399999999996" stroke="#6cbde8" stroke-width="0.9"/>
<line x1="371.2" y1="392.436" x2="371.2" y2="396.12" stroke="#6cbde8" stroke-width="0.9"/>
<line x1="369.2" y1="392.436" x2="373.2" y2="392.436" stroke="#6cbde8" stroke-width="0.9"/>
<line x1="369.2" y1="396.12" x2="373.2" y2="396.12" stroke="#6cbde8" stroke-width="0.9"/>
<circle cx="371.2" cy="391.822" r="2.5" fill="none" stroke="#45ace2" stroke-width="0.9"/>
<circle cx="385.3" cy="374.63" r="2.5" fill="none" stroke="#45ace2" stroke-width="0.9"/>
<circle cx="398.8" cy="366.64799999999997" r="2.5" fill="none" stroke="#45ace2" stroke-width="0.9"/>
<circle cx="371.2" cy="394.27799999999996" r="2.5" fill="none" stroke="#45ace2" stroke-width="0.9"/>
<circle cx="385.3" cy="408.4" r="2.5" fill="none" stroke="#45ace2" stroke-width="0.9"/>
<circle cx="398.8" cy="408.4" r="2.5" fill="none" stroke="#45ace2" stroke-width="0.9"/>
<line x1="429.2" y1="344.9" x2="429.2" y2="409.09999999999997" stroke="#222" stroke-width="1.4"/>
<line x1="426.59999999999997" y1="408.4" x2="429.2" y2="408.4" stroke="#222" stroke-width="1.1"/>
<text x="423.2" y="411.29999999999995" font-size="8.3" fill="#231f20" text-anchor="end">0</text>
<line x1="426.59999999999997" y1="396.12" x2="429.2" y2="396.12" stroke="#222" stroke-width="1.1"/>
<text x="423.2" y="399.02" font-size="8.3" fill="#231f20" text-anchor="end">20</text>
<line x1="426.59999999999997" y1="383.84" x2="429.2" y2="383.84" stroke="#222" stroke-width="1.1"/>
<text x="423.2" y="386.73999999999995" font-size="8.3" fill="#231f20" text-anchor="end">40</text>
<line x1="426.59999999999997" y1="371.56" x2="429.2" y2="371.56" stroke="#222" stroke-width="1.1"/>
<text x="423.2" y="374.46" font-size="8.3" fill="#231f20" text-anchor="end">60</text>
<line x1="426.59999999999997" y1="359.28" x2="429.2" y2="359.28" stroke="#222" stroke-width="1.1"/>
<text x="423.2" y="362.17999999999995" font-size="8.3" fill="#231f20" text-anchor="end">80</text>
<line x1="426.59999999999997" y1="347.0" x2="429.2" y2="347.0" stroke="#222" stroke-width="1.1"/>
<text x="423.2" y="349.9" font-size="8.3" fill="#231f20" text-anchor="end">100</text>
<line x1="428.5" y1="408.4" x2="471.5" y2="408.4" stroke="#222" stroke-width="1.4"/>
<line x1="439.2" y1="408.4" x2="439.2" y2="411.0" stroke="#222" stroke-width="1.1"/>
<text x="439.2" y="421" font-size="8.3" fill="#231f20" text-anchor="middle">6</text>
<line x1="453.3" y1="408.4" x2="453.3" y2="411.0" stroke="#222" stroke-width="1.1"/>
<text x="453.3" y="421" font-size="8.3" fill="#231f20" text-anchor="middle">12</text>
<line x1="467.1" y1="408.4" x2="467.1" y2="411.0" stroke="#222" stroke-width="1.1"/>
<text x="467.1" y="421" font-size="8.3" fill="#231f20" text-anchor="middle">18</text>
<polyline points="439.2,397.34799999999996 453.3,369.71799999999996 467.1,374.01599999999996" fill="none" stroke="#45ace2" stroke-width="0.9" stroke-dasharray="1.6,1.3"/>
<polyline points="439.2,404.102 453.3,403.488 467.1,404.71599999999995" fill="none" stroke="#45ace2" stroke-width="0.9" stroke-dasharray="1.6,1.3"/>
<line x1="439.2" y1="393.04999999999995" x2="439.2" y2="401.64599999999996" stroke="#6cbde8" stroke-width="0.9"/>
<line x1="437.2" y1="393.04999999999995" x2="441.2" y2="393.04999999999995" stroke="#6cbde8" stroke-width="0.9"/>
<line x1="437.2" y1="401.64599999999996" x2="441.2" y2="401.64599999999996" stroke="#6cbde8" stroke-width="0.9"/>
<line x1="453.3" y1="362.34999999999997" x2="453.3" y2="377.08599999999996" stroke="#6cbde8" stroke-width="0.9"/>
<line x1="451.3" y1="362.34999999999997" x2="455.3" y2="362.34999999999997" stroke="#6cbde8" stroke-width="0.9"/>
<line x1="451.3" y1="377.08599999999996" x2="455.3" y2="377.08599999999996" stroke="#6cbde8" stroke-width="0.9"/>
<line x1="467.1" y1="366.64799999999997" x2="467.1" y2="381.38399999999996" stroke="#6cbde8" stroke-width="0.9"/>
<line x1="465.1" y1="366.64799999999997" x2="469.1" y2="366.64799999999997" stroke="#6cbde8" stroke-width="0.9"/>
<line x1="465.1" y1="381.38399999999996" x2="469.1" y2="381.38399999999996" stroke="#6cbde8" stroke-width="0.9"/>
<line x1="439.2" y1="403.488" x2="439.2" y2="404.71599999999995" stroke="#6cbde8" stroke-width="0.9"/>
<line x1="437.2" y1="403.488" x2="441.2" y2="403.488" stroke="#6cbde8" stroke-width="0.9"/>
<line x1="437.2" y1="404.71599999999995" x2="441.2" y2="404.71599999999995" stroke="#6cbde8" stroke-width="0.9"/>
<line x1="453.3" y1="402.87399999999997" x2="453.3" y2="404.102" stroke="#6cbde8" stroke-width="0.9"/>
<line x1="451.3" y1="402.87399999999997" x2="455.3" y2="402.87399999999997" stroke="#6cbde8" stroke-width="0.9"/>
<line x1="451.3" y1="404.102" x2="455.3" y2="404.102" stroke="#6cbde8" stroke-width="0.9"/>
<line x1="467.1" y1="404.102" x2="467.1" y2="405.33" stroke="#6cbde8" stroke-width="0.9"/>
<line x1="465.1" y1="404.102" x2="469.1" y2="404.102" stroke="#6cbde8" stroke-width="0.9"/>
<line x1="465.1" y1="405.33" x2="469.1" y2="405.33" stroke="#6cbde8" stroke-width="0.9"/>
<circle cx="439.2" cy="397.34799999999996" r="2.5" fill="none" stroke="#45ace2" stroke-width="0.9"/>
<circle cx="453.3" cy="369.71799999999996" r="2.5" fill="none" stroke="#45ace2" stroke-width="0.9"/>
<circle cx="467.1" cy="374.01599999999996" r="2.5" fill="none" stroke="#45ace2" stroke-width="0.9"/>
<circle cx="439.2" cy="404.102" r="2.5" fill="none" stroke="#45ace2" stroke-width="0.9"/>
<circle cx="453.3" cy="403.488" r="2.5" fill="none" stroke="#45ace2" stroke-width="0.9"/>
<circle cx="467.1" cy="404.71599999999995" r="2.5" fill="none" stroke="#45ace2" stroke-width="0.9"/>
<text x="476.9" y="375.6" font-size="8.8" fill="#231f20" stroke="#231f20" stroke-width="0.1" textLength="17.7" lengthAdjust="spacingAndGlyphs">MPN</text>
<text x="476.9" y="406.7" font-size="8.8" fill="#231f20" stroke="#231f20" stroke-width="0.1" textLength="28.9" lengthAdjust="spacingAndGlyphs">no MPN</text>
<text x="7.3" y="448.9" font-size="12" fill="#000" font-weight="bold">E</text>
<text x="266" y="461.3" font-size="10.4" fill="#231f20" stroke="#231f20" stroke-width="0.1" text-anchor="middle" textLength="397.5" lengthAdjust="spacingAndGlyphs">GFP chimerism in hematopoietic progenitor and stem cells (HSPCs) after 18 weeks of treatment</text>
<text x="88.7" y="474.5" font-size="8.6" fill="#231f20" stroke="#231f20" stroke-width="0.1" textLength="102.5" lengthAdjust="spacingAndGlyphs"><tspan font-style="italic">VF</tspan> mice with MPN phenotype</text>
<text x="295" y="475.6" font-size="8.6" fill="#231f20" stroke="#231f20" stroke-width="0.1" textLength="201.3" lengthAdjust="spacingAndGlyphs"><tspan font-style="italic">VF</tspan> mice with GFP-chimerism &gt;1%, but no MPN phenotype</text>
<text x="191.1" y="483.8" font-size="8.4" fill="#231f20" stroke="#231f20" stroke-width="0.1" textLength="23.2" lengthAdjust="spacingAndGlyphs">isotype</text>
<text x="225.8" y="484" font-size="8.4" fill="#231f20" stroke="#231f20" stroke-width="0.1" textLength="30.7" lengthAdjust="spacingAndGlyphs">anti-IL-1β</text>
<rect x="200" y="488.3" width="3.7" height="7" fill="#1c4a86"/>
<rect x="236.9" y="488.3" width="3.9" height="7" fill="#45a6df"/>
<text x="6.3" y="491.5" font-size="8.7" fill="#231f20" stroke="#231f20" stroke-width="0.1" textLength="26.2" lengthAdjust="spacingAndGlyphs">% GFP</text>
<text x="139.5" y="491.4" font-size="8.7" fill="#231f20" stroke="#231f20" stroke-width="0.1" text-anchor="middle" textLength="46.5" lengthAdjust="spacingAndGlyphs">Bone marrow</text>
<text x="10.2" y="567" font-size="8.7" fill="#231f20" stroke="#231f20" stroke-width="0.1" textLength="26.2" lengthAdjust="spacingAndGlyphs">% GFP</text>
<text x="140" y="567" font-size="8.7" fill="#231f20" stroke="#231f20" stroke-width="0.1" text-anchor="middle" textLength="25" lengthAdjust="spacingAndGlyphs">Spleen</text>
<text x="271" y="491.5" font-size="8.7" fill="#231f20" stroke="#231f20" stroke-width="0.1" textLength="26" lengthAdjust="spacingAndGlyphs">% GFP</text>
<text x="396.5" y="491.4" font-size="8.7" fill="#231f20" stroke="#231f20" stroke-width="0.1" text-anchor="middle" textLength="46.5" lengthAdjust="spacingAndGlyphs">Bone marrow</text>
<text x="271.2" y="567" font-size="8.7" fill="#231f20" stroke="#231f20" stroke-width="0.1" textLength="26" lengthAdjust="spacingAndGlyphs">% GFP</text>
<text x="397" y="567" font-size="8.7" fill="#231f20" stroke="#231f20" stroke-width="0.1" text-anchor="middle" textLength="25" lengthAdjust="spacingAndGlyphs">Spleen</text>
<line x1="26.8" y1="497.8" x2="26.8" y2="551.3000000000001" stroke="#222" stroke-width="1.3"/>
<line x1="24.2" y1="550.6" x2="26.8" y2="550.6" stroke="#222" stroke-width="1.1"/>
<text x="21.0" y="553.5" font-size="8.3" fill="#231f20" text-anchor="end">0</text>
<line x1="24.2" y1="540.62" x2="26.8" y2="540.62" stroke="#222" stroke-width="1.1"/>
<text x="21.0" y="543.52" font-size="8.3" fill="#231f20" text-anchor="end">20</text>
<line x1="24.2" y1="530.64" x2="26.8" y2="530.64" stroke="#222" stroke-width="1.1"/>
<text x="21.0" y="533.54" font-size="8.3" fill="#231f20" text-anchor="end">40</text>
<line x1="24.2" y1="520.66" x2="26.8" y2="520.66" stroke="#222" stroke-width="1.1"/>
<text x="21.0" y="523.56" font-size="8.3" fill="#231f20" text-anchor="end">60</text>
<line x1="24.2" y1="510.68" x2="26.8" y2="510.68" stroke="#222" stroke-width="1.1"/>
<text x="21.0" y="513.58" font-size="8.3" fill="#231f20" text-anchor="end">80</text>
<line x1="24.2" y1="500.70000000000005" x2="26.8" y2="500.70000000000005" stroke="#222" stroke-width="1.1"/>
<text x="21.0" y="503.6" font-size="8.3" fill="#231f20" text-anchor="end">100</text>
<rect x="36.300000000000004" y="519.662" width="4.9" height="30.938" fill="#b7d7f0"/>
<line x1="38.75000000000001" y1="507.187" x2="38.75000000000001" y2="532.1370000000001" stroke="#8cc4ea" stroke-width="0.9"/>
<line x1="37.50000000000001" y1="507.187" x2="40.00000000000001" y2="507.187" stroke="#8cc4ea" stroke-width="0.9"/>
<rect x="29.1" y="523.654" width="4.9" height="26.946" fill="#1c4a86"/>
<line x1="31.55" y1="517.666" x2="31.55" y2="523.654" stroke="#2a4a7a" stroke-width="0.9"/>
<line x1="30.3" y1="517.666" x2="32.800000000000004" y2="517.666" stroke="#2a4a7a" stroke-width="0.9"/>
<rect x="55.27" y="517.666" width="4.9" height="32.934" fill="#b7d7f0"/>
<line x1="57.720000000000006" y1="505.69000000000005" x2="57.720000000000006" y2="529.642" stroke="#8cc4ea" stroke-width="0.9"/>
<line x1="56.470000000000006" y1="505.69000000000005" x2="58.970000000000006" y2="505.69000000000005" stroke="#8cc4ea" stroke-width="0.9"/>
<rect x="48.07" y="523.155" width="4.9" height="27.445" fill="#1c4a86"/>
<line x1="50.52" y1="517.167" x2="50.52" y2="523.155" stroke="#2a4a7a" stroke-width="0.9"/>
<line x1="49.27" y1="517.167" x2="51.77" y2="517.167" stroke="#2a4a7a" stroke-width="0.9"/>
<rect x="74.24" y="507.187" width="4.9" height="43.413" fill="#b7d7f0"/>
<line x1="76.69" y1="500.70000000000005" x2="76.69" y2="513.674" stroke="#8cc4ea" stroke-width="0.9"/>
<line x1="75.44" y1="500.70000000000005" x2="77.94" y2="500.70000000000005" stroke="#8cc4ea" stroke-width="0.9"/>
<rect x="67.03999999999999" y="512.676" width="4.9" height="37.924" fill="#1c4a86"/>
<line x1="69.49" y1="507.68600000000004" x2="69.49" y2="512.676" stroke="#2a4a7a" stroke-width="0.9"/>
<line x1="68.24" y1="507.68600000000004" x2="70.74" y2="507.68600000000004" stroke="#2a4a7a" stroke-width="0.9"/>
<rect x="93.21" y="515.6700000000001" width="4.9" height="34.93" fill="#b7d7f0"/>
<line x1="95.66" y1="504.19300000000004" x2="95.66" y2="527.147" stroke="#8cc4ea" stroke-width="0.9"/>
<line x1="94.41" y1="504.19300000000004" x2="96.91" y2="504.19300000000004" stroke="#8cc4ea" stroke-width="0.9"/>
<rect x="86.00999999999999" y="517.167" width="4.9" height="33.433" fill="#1c4a86"/>
<line x1="88.46" y1="511.17900000000003" x2="88.46" y2="517.167" stroke="#2a4a7a" stroke-width="0.9"/>
<line x1="87.21" y1="511.17900000000003" x2="89.71" y2="511.17900000000003" stroke="#2a4a7a" stroke-width="0.9"/>
<rect x="112.17999999999999" y="515.6700000000001" width="4.9" height="34.93" fill="#b7d7f0"/>
<line x1="114.63" y1="504.19300000000004" x2="114.63" y2="527.147" stroke="#8cc4ea" stroke-width="0.9"/>
<line x1="113.38" y1="504.19300000000004" x2="115.88" y2="504.19300000000004" stroke="#8cc4ea" stroke-width="0.9"/>
<rect x="104.97999999999999" y="518.165" width="4.9" height="32.435" fill="#1c4a86"/>
<line x1="107.42999999999999" y1="512.676" x2="107.42999999999999" y2="518.165" stroke="#2a4a7a" stroke-width="0.9"/>
<line x1="106.17999999999999" y1="512.676" x2="108.67999999999999" y2="512.676" stroke="#2a4a7a" stroke-width="0.9"/>
<rect x="131.14999999999998" y="515.171" width="4.9" height="35.429" fill="#b7d7f0"/>
<line x1="133.59999999999997" y1="502.696" x2="133.59999999999997" y2="527.6460000000001" stroke="#8cc4ea" stroke-width="0.9"/>
<line x1="132.34999999999997" y1="502.696" x2="134.84999999999997" y2="502.696" stroke="#8cc4ea" stroke-width="0.9"/>
<rect x="123.94999999999999" y="517.666" width="4.9" height="32.934" fill="#1c4a86"/>
<line x1="126.39999999999999" y1="511.678" x2="126.39999999999999" y2="517.666" stroke="#2a4a7a" stroke-width="0.9"/>
<line x1="125.14999999999999" y1="511.678" x2="127.64999999999999" y2="511.678" stroke="#2a4a7a" stroke-width="0.9"/>
<rect x="150.11999999999998" y="516.169" width="4.9" height="34.431" fill="#b7d7f0"/>
<line x1="152.56999999999996" y1="502.696" x2="152.56999999999996" y2="529.642" stroke="#8cc4ea" stroke-width="0.9"/>
<line x1="151.31999999999996" y1="502.696" x2="153.81999999999996" y2="502.696" stroke="#8cc4ea" stroke-width="0.9"/>
<rect x="142.92" y="517.666" width="4.9" height="32.934" fill="#1c4a86"/>
<line x1="145.36999999999998" y1="511.678" x2="145.36999999999998" y2="517.666" stroke="#2a4a7a" stroke-width="0.9"/>
<line x1="144.11999999999998" y1="511.678" x2="146.61999999999998" y2="511.678" stroke="#2a4a7a" stroke-width="0.9"/>
<rect x="169.08999999999997" y="515.171" width="4.9" height="35.429" fill="#b7d7f0"/>
<line x1="171.53999999999996" y1="504.692" x2="171.53999999999996" y2="525.65" stroke="#8cc4ea" stroke-width="0.9"/>
<line x1="170.28999999999996" y1="504.692" x2="172.78999999999996" y2="504.692" stroke="#8cc4ea" stroke-width="0.9"/>
<rect x="161.89" y="517.666" width="4.9" height="32.934" fill="#1c4a86"/>
<line x1="164.33999999999997" y1="512.676" x2="164.33999999999997" y2="517.666" stroke="#2a4a7a" stroke-width="0.9"/>
<line x1="163.08999999999997" y1="512.676" x2="165.58999999999997" y2="512.676" stroke="#2a4a7a" stroke-width="0.9"/>
<rect x="188.05999999999997" y="511.17900000000003" width="4.9" height="39.421" fill="#b7d7f0"/>
<line x1="190.50999999999996" y1="501.199" x2="190.50999999999996" y2="521.159" stroke="#8cc4ea" stroke-width="0.9"/>
<line x1="189.25999999999996" y1="501.199" x2="191.75999999999996" y2="501.199" stroke="#8cc4ea" stroke-width="0.9"/>
<rect x="180.85999999999999" y="517.167" width="4.9" height="33.433" fill="#1c4a86"/>
<line x1="183.30999999999997" y1="512.177" x2="183.30999999999997" y2="517.167" stroke="#2a4a7a" stroke-width="0.9"/>
<line x1="182.05999999999997" y1="512.177" x2="184.55999999999997" y2="512.177" stroke="#2a4a7a" stroke-width="0.9"/>
<rect x="207.02999999999997" y="514.672" width="4.9" height="35.928" fill="#b7d7f0"/>
<line x1="209.47999999999996" y1="503.694" x2="209.47999999999996" y2="525.65" stroke="#8cc4ea" stroke-width="0.9"/>
<line x1="208.22999999999996" y1="503.694" x2="210.72999999999996" y2="503.694" stroke="#8cc4ea" stroke-width="0.9"/>
<rect x="199.82999999999998" y="517.167" width="4.9" height="33.433" fill="#1c4a86"/>
<line x1="202.27999999999997" y1="511.678" x2="202.27999999999997" y2="517.167" stroke="#2a4a7a" stroke-width="0.9"/>
<line x1="201.02999999999997" y1="511.678" x2="203.52999999999997" y2="511.678" stroke="#2a4a7a" stroke-width="0.9"/>
<rect x="225.99999999999997" y="514.173" width="4.9" height="36.427" fill="#b7d7f0"/>
<line x1="228.44999999999996" y1="502.696" x2="228.44999999999996" y2="525.65" stroke="#8cc4ea" stroke-width="0.9"/>
<line x1="227.19999999999996" y1="502.696" x2="229.69999999999996" y2="502.696" stroke="#8cc4ea" stroke-width="0.9"/>
<rect x="218.79999999999998" y="518.165" width="4.9" height="32.435" fill="#1c4a86"/>
<line x1="221.24999999999997" y1="512.177" x2="221.24999999999997" y2="518.165" stroke="#2a4a7a" stroke-width="0.9"/>
<line x1="219.99999999999997" y1="512.177" x2="222.49999999999997" y2="512.177" stroke="#2a4a7a" stroke-width="0.9"/>
<rect x="244.96999999999997" y="517.167" width="4.9" height="33.433" fill="#b7d7f0"/>
<line x1="247.41999999999996" y1="507.68600000000004" x2="247.41999999999996" y2="526.648" stroke="#8cc4ea" stroke-width="0.9"/>
<line x1="246.16999999999996" y1="507.68600000000004" x2="248.66999999999996" y2="507.68600000000004" stroke="#8cc4ea" stroke-width="0.9"/>
<rect x="237.76999999999998" y="518.664" width="4.9" height="31.936" fill="#1c4a86"/>
<line x1="240.21999999999997" y1="512.676" x2="240.21999999999997" y2="518.664" stroke="#2a4a7a" stroke-width="0.9"/>
<line x1="238.96999999999997" y1="512.676" x2="241.46999999999997" y2="512.676" stroke="#2a4a7a" stroke-width="0.9"/>
<line x1="26.2" y1="550.6" x2="252.2" y2="550.6" stroke="#333" stroke-width="1.3"/>
<line x1="27.1" y1="572.5" x2="27.1" y2="625.7" stroke="#222" stroke-width="1.3"/>
<line x1="24.5" y1="625.0" x2="27.1" y2="625.0" stroke="#222" stroke-width="1.1"/>
<text x="21.3" y="627.9" font-size="8.3" fill="#231f20" text-anchor="end">0</text>
<line x1="24.5" y1="614.9" x2="27.1" y2="614.9" stroke="#222" stroke-width="1.1"/>
<text x="21.3" y="617.8" font-size="8.3" fill="#231f20" text-anchor="end">20</text>
<line x1="24.5" y1="604.8" x2="27.1" y2="604.8" stroke="#222" stroke-width="1.1"/>
<text x="21.3" y="607.6999999999999" font-size="8.3" fill="#231f20" text-anchor="end">40</text>
<line x1="24.5" y1="594.7" x2="27.1" y2="594.7" stroke="#222" stroke-width="1.1"/>
<text x="21.3" y="597.6" font-size="8.3" fill="#231f20" text-anchor="end">60</text>
<line x1="24.5" y1="584.6" x2="27.1" y2="584.6" stroke="#222" stroke-width="1.1"/>
<text x="21.3" y="587.5" font-size="8.3" fill="#231f20" text-anchor="end">80</text>
<line x1="24.5" y1="574.5" x2="27.1" y2="574.5" stroke="#222" stroke-width="1.1"/>
<text x="21.3" y="577.4" font-size="8.3" fill="#231f20" text-anchor="end">100</text>
<rect x="36.5" y="604.8" width="4.9" height="20.2" fill="#b7d7f0"/>
<line x1="38.95" y1="592.175" x2="38.95" y2="617.425" stroke="#8cc4ea" stroke-width="0.9"/>
<line x1="37.7" y1="592.175" x2="40.2" y2="592.175" stroke="#8cc4ea" stroke-width="0.9"/>
<rect x="29.3" y="603.285" width="4.9" height="21.715" fill="#1c4a86"/>
<line x1="31.75" y1="598.235" x2="31.75" y2="603.285" stroke="#2a4a7a" stroke-width="0.9"/>
<line x1="30.5" y1="598.235" x2="33.0" y2="598.235" stroke="#2a4a7a" stroke-width="0.9"/>
<rect x="55.47" y="604.295" width="4.9" height="20.705000000000002" fill="#b7d7f0"/>
<line x1="57.92" y1="592.175" x2="57.92" y2="616.415" stroke="#8cc4ea" stroke-width="0.9"/>
<line x1="56.67" y1="592.175" x2="59.17" y2="592.175" stroke="#8cc4ea" stroke-width="0.9"/>
<rect x="48.269999999999996" y="603.79" width="4.9" height="21.21" fill="#1c4a86"/>
<line x1="50.72" y1="598.74" x2="50.72" y2="603.79" stroke="#2a4a7a" stroke-width="0.9"/>
<line x1="49.47" y1="598.74" x2="51.97" y2="598.74" stroke="#2a4a7a" stroke-width="0.9"/>
<rect x="74.44" y="587.125" width="4.9" height="37.875" fill="#b7d7f0"/>
<line x1="76.89" y1="581.065" x2="76.89" y2="593.185" stroke="#8cc4ea" stroke-width="0.9"/>
<line x1="75.64" y1="581.065" x2="78.14" y2="581.065" stroke="#8cc4ea" stroke-width="0.9"/>
<rect x="67.24" y="592.175" width="4.9" height="32.825" fill="#1c4a86"/>
<line x1="69.69" y1="586.115" x2="69.69" y2="592.175" stroke="#2a4a7a" stroke-width="0.9"/>
<line x1="68.44" y1="586.115" x2="70.94" y2="586.115" stroke="#2a4a7a" stroke-width="0.9"/>
<rect x="93.41" y="596.72" width="4.9" height="28.28" fill="#b7d7f0"/>
<line x1="95.86" y1="584.6" x2="95.86" y2="608.84" stroke="#8cc4ea" stroke-width="0.9"/>
<line x1="94.61" y1="584.6" x2="97.11" y2="584.6" stroke="#8cc4ea" stroke-width="0.9"/>
<rect x="86.21" y="593.69" width="4.9" height="31.31" fill="#1c4a86"/>
<line x1="88.66" y1="587.63" x2="88.66" y2="593.69" stroke="#2a4a7a" stroke-width="0.9"/>
<line x1="87.41" y1="587.63" x2="89.91" y2="587.63" stroke="#2a4a7a" stroke-width="0.9"/>
<rect x="112.38" y="599.245" width="4.9" height="25.755" fill="#b7d7f0"/>
<line x1="114.83" y1="587.63" x2="114.83" y2="610.86" stroke="#8cc4ea" stroke-width="0.9"/>
<line x1="113.58" y1="587.63" x2="116.08" y2="587.63" stroke="#8cc4ea" stroke-width="0.9"/>
<rect x="105.17999999999999" y="596.72" width="4.9" height="28.28" fill="#1c4a86"/>
<line x1="107.63" y1="591.165" x2="107.63" y2="596.72" stroke="#2a4a7a" stroke-width="0.9"/>
<line x1="106.38" y1="591.165" x2="108.88" y2="591.165" stroke="#2a4a7a" stroke-width="0.9"/>
<rect x="131.35" y="592.175" width="4.9" height="32.825" fill="#b7d7f0"/>
<line x1="133.79999999999998" y1="581.065" x2="133.79999999999998" y2="603.285" stroke="#8cc4ea" stroke-width="0.9"/>
<line x1="132.54999999999998" y1="581.065" x2="135.04999999999998" y2="581.065" stroke="#8cc4ea" stroke-width="0.9"/>
<rect x="124.14999999999999" y="593.185" width="4.9" height="31.815" fill="#1c4a86"/>
<line x1="126.6" y1="587.125" x2="126.6" y2="593.185" stroke="#2a4a7a" stroke-width="0.9"/>
<line x1="125.35" y1="587.125" x2="127.85" y2="587.125" stroke="#2a4a7a" stroke-width="0.9"/>
<rect x="150.32" y="592.175" width="4.9" height="32.825" fill="#b7d7f0"/>
<line x1="152.76999999999998" y1="581.065" x2="152.76999999999998" y2="603.285" stroke="#8cc4ea" stroke-width="0.9"/>
<line x1="151.51999999999998" y1="581.065" x2="154.01999999999998" y2="581.065" stroke="#8cc4ea" stroke-width="0.9"/>
<rect x="143.12" y="592.68" width="4.9" height="32.32" fill="#1c4a86"/>
<line x1="145.57" y1="587.125" x2="145.57" y2="592.68" stroke="#2a4a7a" stroke-width="0.9"/>
<line x1="144.32" y1="587.125" x2="146.82" y2="587.125" stroke="#2a4a7a" stroke-width="0.9"/>
<rect x="169.29" y="586.115" width="4.9" height="38.885" fill="#b7d7f0"/>
<line x1="171.73999999999998" y1="581.065" x2="171.73999999999998" y2="591.165" stroke="#8cc4ea" stroke-width="0.9"/>
<line x1="170.48999999999998" y1="581.065" x2="172.98999999999998" y2="581.065" stroke="#8cc4ea" stroke-width="0.9"/>
<rect x="162.09" y="593.185" width="4.9" height="31.815" fill="#1c4a86"/>
<line x1="164.54" y1="588.135" x2="164.54" y2="593.185" stroke="#2a4a7a" stroke-width="0.9"/>
<line x1="163.29" y1="588.135" x2="165.79" y2="588.135" stroke="#2a4a7a" stroke-width="0.9"/>
<rect x="188.26" y="587.125" width="4.9" height="37.875" fill="#b7d7f0"/>
<line x1="190.70999999999998" y1="579.045" x2="190.70999999999998" y2="595.205" stroke="#8cc4ea" stroke-width="0.9"/>
<line x1="189.45999999999998" y1="579.045" x2="191.95999999999998" y2="579.045" stroke="#8cc4ea" stroke-width="0.9"/>
<rect x="181.06" y="592.68" width="4.9" height="32.32" fill="#1c4a86"/>
<line x1="183.51" y1="587.125" x2="183.51" y2="592.68" stroke="#2a4a7a" stroke-width="0.9"/>
<line x1="182.26" y1="587.125" x2="184.76" y2="587.125" stroke="#2a4a7a" stroke-width="0.9"/>
<rect x="207.23" y="589.145" width="4.9" height="35.855" fill="#b7d7f0"/>
<line x1="209.67999999999998" y1="581.065" x2="209.67999999999998" y2="597.225" stroke="#8cc4ea" stroke-width="0.9"/>
<line x1="208.42999999999998" y1="581.065" x2="210.92999999999998" y2="581.065" stroke="#8cc4ea" stroke-width="0.9"/>
<rect x="200.03" y="592.68" width="4.9" height="32.32" fill="#1c4a86"/>
<line x1="202.48" y1="587.125" x2="202.48" y2="592.68" stroke="#2a4a7a" stroke-width="0.9"/>
<line x1="201.23" y1="587.125" x2="203.73" y2="587.125" stroke="#2a4a7a" stroke-width="0.9"/>
<rect x="226.2" y="590.66" width="4.9" height="34.34" fill="#b7d7f0"/>
<line x1="228.64999999999998" y1="579.55" x2="228.64999999999998" y2="601.77" stroke="#8cc4ea" stroke-width="0.9"/>
<line x1="227.39999999999998" y1="579.55" x2="229.89999999999998" y2="579.55" stroke="#8cc4ea" stroke-width="0.9"/>
<rect x="219.0" y="596.72" width="4.9" height="28.28" fill="#1c4a86"/>
<line x1="221.45" y1="591.165" x2="221.45" y2="596.72" stroke="#2a4a7a" stroke-width="0.9"/>
<line x1="220.2" y1="591.165" x2="222.7" y2="591.165" stroke="#2a4a7a" stroke-width="0.9"/>
<rect x="245.17" y="582.58" width="4.9" height="42.42" fill="#b7d7f0"/>
<line x1="247.61999999999998" y1="580.56" x2="247.61999999999998" y2="584.6" stroke="#8cc4ea" stroke-width="0.9"/>
<line x1="246.36999999999998" y1="580.56" x2="248.86999999999998" y2="580.56" stroke="#8cc4ea" stroke-width="0.9"/>
<rect x="237.97" y="591.67" width="4.9" height="33.33" fill="#1c4a86"/>
<line x1="240.42" y1="587.63" x2="240.42" y2="591.67" stroke="#2a4a7a" stroke-width="0.9"/>
<line x1="239.17" y1="587.63" x2="241.67" y2="587.63" stroke="#2a4a7a" stroke-width="0.9"/>
<line x1="26.5" y1="625" x2="250.5" y2="625" stroke="#333" stroke-width="1.3"/>
<line x1="284.2" y1="493.8" x2="284.2" y2="551.2" stroke="#222" stroke-width="1.3"/>
<line x1="281.59999999999997" y1="550.5" x2="284.2" y2="550.5" stroke="#222" stroke-width="1.1"/>
<text x="278.4" y="553.4" font-size="8.3" fill="#231f20" text-anchor="end">0</text>
<line x1="281.59999999999997" y1="538.0" x2="284.2" y2="538.0" stroke="#222" stroke-width="1.1"/>
<text x="278.4" y="540.9" font-size="8.3" fill="#231f20" text-anchor="end">5</text>
<line x1="281.59999999999997" y1="525.5" x2="284.2" y2="525.5" stroke="#222" stroke-width="1.1"/>
<text x="278.4" y="528.4" font-size="8.3" fill="#231f20" text-anchor="end">10</text>
<line x1="281.59999999999997" y1="513.0" x2="284.2" y2="513.0" stroke="#222" stroke-width="1.1"/>
<text x="278.4" y="515.9" font-size="8.3" fill="#231f20" text-anchor="end">15</text>
<line x1="281.59999999999997" y1="500.5" x2="284.2" y2="500.5" stroke="#222" stroke-width="1.1"/>
<text x="278.4" y="503.4" font-size="8.3" fill="#231f20" text-anchor="end">20</text>
<rect x="292.95" y="549.75" width="4.9" height="0.75" fill="#b7d7f0"/>
<line x1="295.4" y1="547.5" x2="295.4" y2="550.5" stroke="#8cc4ea" stroke-width="0.9"/>
<line x1="294.15" y1="547.5" x2="296.65" y2="547.5" stroke="#8cc4ea" stroke-width="0.9"/>
<rect x="285.75" y="543.0" width="4.9" height="7.5" fill="#1c4a86"/>
<line x1="288.2" y1="536.75" x2="288.2" y2="543.0" stroke="#6f94c6" stroke-width="0.9"/>
<line x1="286.95" y1="536.75" x2="289.45" y2="536.75" stroke="#6f94c6" stroke-width="0.9"/>
<rect x="311.92" y="549.5" width="4.9" height="1.0" fill="#b7d7f0"/>
<line x1="314.37" y1="546.75" x2="314.37" y2="550.5" stroke="#8cc4ea" stroke-width="0.9"/>
<line x1="313.12" y1="546.75" x2="315.62" y2="546.75" stroke="#8cc4ea" stroke-width="0.9"/>
<rect x="304.72" y="540.75" width="4.9" height="9.75" fill="#1c4a86"/>
<line x1="307.17" y1="533.25" x2="307.17" y2="540.75" stroke="#6f94c6" stroke-width="0.9"/>
<line x1="305.92" y1="533.25" x2="308.42" y2="533.25" stroke="#6f94c6" stroke-width="0.9"/>
<rect x="330.89" y="549.75" width="4.9" height="0.75" fill="#b7d7f0"/>
<line x1="333.34" y1="546.75" x2="333.34" y2="550.5" stroke="#8cc4ea" stroke-width="0.9"/>
<line x1="332.09" y1="546.75" x2="334.59" y2="546.75" stroke="#8cc4ea" stroke-width="0.9"/>
<rect x="323.69" y="515.75" width="4.9" height="34.75" fill="#1c4a86"/>
<line x1="326.14" y1="500.5" x2="326.14" y2="515.75" stroke="#6f94c6" stroke-width="0.9"/>
<line x1="324.89" y1="500.5" x2="327.39" y2="500.5" stroke="#6f94c6" stroke-width="0.9"/>
<rect x="349.85999999999996" y="550.0" width="4.9" height="0.5" fill="#b7d7f0"/>
<line x1="352.30999999999995" y1="549.25" x2="352.30999999999995" y2="550.5" stroke="#8cc4ea" stroke-width="0.9"/>
<line x1="351.05999999999995" y1="549.25" x2="353.55999999999995" y2="549.25" stroke="#8cc4ea" stroke-width="0.9"/>
<rect x="342.65999999999997" y="532.0" width="4.9" height="18.5" fill="#1c4a86"/>
<line x1="345.10999999999996" y1="515.75" x2="345.10999999999996" y2="532.0" stroke="#6f94c6" stroke-width="0.9"/>
<line x1="343.85999999999996" y1="515.75" x2="346.35999999999996" y2="515.75" stroke="#6f94c6" stroke-width="0.9"/>
<rect x="368.83" y="549.75" width="4.9" height="0.75" fill="#b7d7f0"/>
<line x1="371.28" y1="548.0" x2="371.28" y2="550.5" stroke="#8cc4ea" stroke-width="0.9"/>
<line x1="370.03" y1="548.0" x2="372.53" y2="548.0" stroke="#8cc4ea" stroke-width="0.9"/>
<rect x="361.63" y="533.0" width="4.9" height="17.5" fill="#1c4a86"/>
<line x1="364.08" y1="518.25" x2="364.08" y2="533.0" stroke="#6f94c6" stroke-width="0.9"/>
<line x1="362.83" y1="518.25" x2="365.33" y2="518.25" stroke="#6f94c6" stroke-width="0.9"/>
<rect x="387.8" y="550.0" width="4.9" height="0.5" fill="#b7d7f0"/>
<line x1="390.25" y1="549.25" x2="390.25" y2="550.5" stroke="#8cc4ea" stroke-width="0.9"/>
<line x1="389.0" y1="549.25" x2="391.5" y2="549.25" stroke="#8cc4ea" stroke-width="0.9"/>
<rect x="380.6" y="534.25" width="4.9" height="16.25" fill="#1c4a86"/>
<line x1="383.05" y1="520.75" x2="383.05" y2="534.25" stroke="#6f94c6" stroke-width="0.9"/>
<line x1="381.8" y1="520.75" x2="384.3" y2="520.75" stroke="#6f94c6" stroke-width="0.9"/>
<rect x="406.77" y="550.0" width="4.9" height="0.5" fill="#b7d7f0"/>
<line x1="409.21999999999997" y1="549.25" x2="409.21999999999997" y2="550.5" stroke="#8cc4ea" stroke-width="0.9"/>
<line x1="407.96999999999997" y1="549.25" x2="410.46999999999997" y2="549.25" stroke="#8cc4ea" stroke-width="0.9"/>
<rect x="399.57" y="531.25" width="4.9" height="19.25" fill="#1c4a86"/>
<line x1="402.02" y1="515.0" x2="402.02" y2="531.25" stroke="#6f94c6" stroke-width="0.9"/>
<line x1="400.77" y1="515.0" x2="403.27" y2="515.0" stroke="#6f94c6" stroke-width="0.9"/>
<rect x="425.73999999999995" y="550.0" width="4.9" height="0.5" fill="#b7d7f0"/>
<line x1="428.18999999999994" y1="549.25" x2="428.18999999999994" y2="550.5" stroke="#8cc4ea" stroke-width="0.9"/>
<line x1="426.93999999999994" y1="549.25" x2="429.43999999999994" y2="549.25" stroke="#8cc4ea" stroke-width="0.9"/>
<rect x="418.53999999999996" y="533.75" width="4.9" height="16.75" fill="#1c4a86"/>
<line x1="420.98999999999995" y1="521.25" x2="420.98999999999995" y2="533.75" stroke="#6f94c6" stroke-width="0.9"/>
<line x1="419.73999999999995" y1="521.25" x2="422.23999999999995" y2="521.25" stroke="#6f94c6" stroke-width="0.9"/>
<rect x="444.71" y="550.0" width="4.9" height="0.5" fill="#b7d7f0"/>
<line x1="447.15999999999997" y1="549.25" x2="447.15999999999997" y2="550.5" stroke="#8cc4ea" stroke-width="0.9"/>
<line x1="445.90999999999997" y1="549.25" x2="448.40999999999997" y2="549.25" stroke="#8cc4ea" stroke-width="0.9"/>
<rect x="437.51" y="530.5" width="4.9" height="20.0" fill="#1c4a86"/>
<line x1="439.96" y1="516.25" x2="439.96" y2="530.5" stroke="#6f94c6" stroke-width="0.9"/>
<line x1="438.71" y1="516.25" x2="441.21" y2="516.25" stroke="#6f94c6" stroke-width="0.9"/>
<rect x="463.68" y="550.0" width="4.9" height="0.5" fill="#b7d7f0"/>
<line x1="466.13" y1="549.25" x2="466.13" y2="550.5" stroke="#8cc4ea" stroke-width="0.9"/>
<line x1="464.88" y1="549.25" x2="467.38" y2="549.25" stroke="#8cc4ea" stroke-width="0.9"/>
<rect x="456.48" y="530.5" width="4.9" height="20.0" fill="#1c4a86"/>
<line x1="458.93" y1="519.5" x2="458.93" y2="530.5" stroke="#6f94c6" stroke-width="0.9"/>
<line x1="457.68" y1="519.5" x2="460.18" y2="519.5" stroke="#6f94c6" stroke-width="0.9"/>
<rect x="482.65" y="550.0" width="4.9" height="0.5" fill="#b7d7f0"/>
<line x1="485.09999999999997" y1="549.25" x2="485.09999999999997" y2="550.5" stroke="#8cc4ea" stroke-width="0.9"/>
<line x1="483.84999999999997" y1="549.25" x2="486.34999999999997" y2="549.25" stroke="#8cc4ea" stroke-width="0.9"/>
<rect x="475.45" y="533.25" width="4.9" height="17.25" fill="#1c4a86"/>
<line x1="477.9" y1="521.25" x2="477.9" y2="533.25" stroke="#6f94c6" stroke-width="0.9"/>
<line x1="476.65" y1="521.25" x2="479.15" y2="521.25" stroke="#6f94c6" stroke-width="0.9"/>
<rect x="501.61999999999995" y="550.0" width="4.9" height="0.5" fill="#b7d7f0"/>
<line x1="504.06999999999994" y1="549.25" x2="504.06999999999994" y2="550.5" stroke="#8cc4ea" stroke-width="0.9"/>
<line x1="502.81999999999994" y1="549.25" x2="505.31999999999994" y2="549.25" stroke="#8cc4ea" stroke-width="0.9"/>
<rect x="494.41999999999996" y="535.75" width="4.9" height="14.75" fill="#1c4a86"/>
<line x1="496.86999999999995" y1="524.0" x2="496.86999999999995" y2="535.75" stroke="#6f94c6" stroke-width="0.9"/>
<line x1="495.61999999999995" y1="524.0" x2="498.11999999999995" y2="524.0" stroke="#6f94c6" stroke-width="0.9"/>
<line x1="283.59999999999997" y1="550.5" x2="508.75" y2="550.5" stroke="#333" stroke-width="1.3"/>
<line x1="283.75" y1="572" x2="283.75" y2="625.7" stroke="#222" stroke-width="1.3"/>
<line x1="281.15" y1="625.0" x2="283.75" y2="625.0" stroke="#222" stroke-width="1.1"/>
<text x="277.95" y="627.9" font-size="8.3" fill="#231f20" text-anchor="end">0</text>
<line x1="281.15" y1="608.25" x2="283.75" y2="608.25" stroke="#222" stroke-width="1.1"/>
<text x="277.95" y="611.15" font-size="8.3" fill="#231f20" text-anchor="end">10</text>
<line x1="281.15" y1="591.5" x2="283.75" y2="591.5" stroke="#222" stroke-width="1.1"/>
<text x="277.95" y="594.4" font-size="8.3" fill="#231f20" text-anchor="end">20</text>
<line x1="281.15" y1="574.75" x2="283.75" y2="574.75" stroke="#222" stroke-width="1.1"/>
<text x="277.95" y="577.65" font-size="8.3" fill="#231f20" text-anchor="end">30</text>
<rect x="292.95" y="624.4975" width="4.9" height="0.5025" fill="#b7d7f0"/>
<line x1="295.4" y1="623.4925" x2="295.4" y2="625.0" stroke="#8cc4ea" stroke-width="0.9"/>
<line x1="294.15" y1="623.4925" x2="296.65" y2="623.4925" stroke="#8cc4ea" stroke-width="0.9"/>
<rect x="285.75" y="618.8025" width="4.9" height="6.197500000000001" fill="#1c4a86"/>
<line x1="288.2" y1="612.94" x2="288.2" y2="618.8025" stroke="#6f94c6" stroke-width="0.9"/>
<line x1="286.95" y1="612.94" x2="289.45" y2="612.94" stroke="#6f94c6" stroke-width="0.9"/>
<rect x="311.92" y="624.665" width="4.9" height="0.335" fill="#b7d7f0"/>
<line x1="314.37" y1="624.1625" x2="314.37" y2="625.0" stroke="#8cc4ea" stroke-width="0.9"/>
<line x1="313.12" y1="624.1625" x2="315.62" y2="624.1625" stroke="#8cc4ea" stroke-width="0.9"/>
<rect x="304.72" y="613.275" width="4.9" height="11.725" fill="#1c4a86"/>
<line x1="307.17" y1="603.225" x2="307.17" y2="613.275" stroke="#6f94c6" stroke-width="0.9"/>
<line x1="305.92" y1="603.225" x2="308.42" y2="603.225" stroke="#6f94c6" stroke-width="0.9"/>
<rect x="330.89" y="624.665" width="4.9" height="0.335" fill="#b7d7f0"/>
<line x1="333.34" y1="624.1625" x2="333.34" y2="625.0" stroke="#8cc4ea" stroke-width="0.9"/>
<line x1="332.09" y1="624.1625" x2="334.59" y2="624.1625" stroke="#8cc4ea" stroke-width="0.9"/>
<rect x="323.69" y="590.495" width="4.9" height="34.505" fill="#1c4a86"/>
<line x1="326.14" y1="574.75" x2="326.14" y2="590.495" stroke="#6f94c6" stroke-width="0.9"/>
<line x1="324.89" y1="574.75" x2="327.39" y2="574.75" stroke="#6f94c6" stroke-width="0.9"/>
<rect x="349.85999999999996" y="624.33" width="4.9" height="0.67" fill="#b7d7f0"/>
<line x1="352.30999999999995" y1="622.32" x2="352.30999999999995" y2="625.0" stroke="#8cc4ea" stroke-width="0.9"/>
<line x1="351.05999999999995" y1="622.32" x2="353.55999999999995" y2="622.32" stroke="#8cc4ea" stroke-width="0.9"/>
<rect x="342.65999999999997" y="611.935" width="4.9" height="13.065" fill="#1c4a86"/>
<line x1="345.10999999999996" y1="607.0775" x2="345.10999999999996" y2="611.935" stroke="#6f94c6" stroke-width="0.9"/>
<line x1="343.85999999999996" y1="607.0775" x2="346.35999999999996" y2="607.0775" stroke="#6f94c6" stroke-width="0.9"/>
<rect x="368.83" y="624.33" width="4.9" height="0.67" fill="#b7d7f0"/>
<line x1="371.28" y1="622.8225" x2="371.28" y2="625.0" stroke="#8cc4ea" stroke-width="0.9"/>
<line x1="370.03" y1="622.8225" x2="372.53" y2="622.8225" stroke="#8cc4ea" stroke-width="0.9"/>
<rect x="361.63" y="611.935" width="4.9" height="13.065" fill="#1c4a86"/>
<line x1="364.08" y1="606.24" x2="364.08" y2="611.935" stroke="#6f94c6" stroke-width="0.9"/>
<line x1="362.83" y1="606.24" x2="365.33" y2="606.24" stroke="#6f94c6" stroke-width="0.9"/>
<rect x="387.8" y="624.665" width="4.9" height="0.335" fill="#b7d7f0"/>
<line x1="390.25" y1="624.1625" x2="390.25" y2="625.0" stroke="#8cc4ea" stroke-width="0.9"/>
<line x1="389.0" y1="624.1625" x2="391.5" y2="624.1625" stroke="#8cc4ea" stroke-width="0.9"/>
<rect x="380.6" y="616.96" width="4.9" height="8.04" fill="#1c4a86"/>
<line x1="383.05" y1="611.265" x2="383.05" y2="616.96" stroke="#6f94c6" stroke-width="0.9"/>
<line x1="381.8" y1="611.265" x2="384.3" y2="611.265" stroke="#6f94c6" stroke-width="0.9"/>
<rect x="406.77" y="624.665" width="4.9" height="0.335" fill="#b7d7f0"/>
<line x1="409.21999999999997" y1="624.1625" x2="409.21999999999997" y2="625.0" stroke="#8cc4ea" stroke-width="0.9"/>
<line x1="407.96999999999997" y1="624.1625" x2="410.46999999999997" y2="624.1625" stroke="#8cc4ea" stroke-width="0.9"/>
<rect x="399.57" y="609.925" width="4.9" height="15.075000000000001" fill="#1c4a86"/>
<line x1="402.02" y1="601.885" x2="402.02" y2="609.925" stroke="#6f94c6" stroke-width="0.9"/>
<line x1="400.77" y1="601.885" x2="403.27" y2="601.885" stroke="#6f94c6" stroke-width="0.9"/>
<rect x="425.73999999999995" y="624.665" width="4.9" height="0.335" fill="#b7d7f0"/>
<line x1="428.18999999999994" y1="624.1625" x2="428.18999999999994" y2="625.0" stroke="#8cc4ea" stroke-width="0.9"/>
<line x1="426.93999999999994" y1="624.1625" x2="429.43999999999994" y2="624.1625" stroke="#8cc4ea" stroke-width="0.9"/>
<rect x="418.53999999999996" y="598.7025" width="4.9" height="26.2975" fill="#1c4a86"/>
<line x1="420.98999999999995" y1="584.465" x2="420.98999999999995" y2="598.7025" stroke="#6f94c6" stroke-width="0.9"/>
<line x1="419.73999999999995" y1="584.465" x2="422.23999999999995" y2="584.465" stroke="#6f94c6" stroke-width="0.9"/>
<rect x="444.71" y="624.665" width="4.9" height="0.335" fill="#b7d7f0"/>
<line x1="447.15999999999997" y1="624.1625" x2="447.15999999999997" y2="625.0" stroke="#8cc4ea" stroke-width="0.9"/>
<line x1="445.90999999999997" y1="624.1625" x2="448.40999999999997" y2="624.1625" stroke="#8cc4ea" stroke-width="0.9"/>
<rect x="437.51" y="612.4375" width="4.9" height="12.5625" fill="#1c4a86"/>
<line x1="439.96" y1="605.57" x2="439.96" y2="612.4375" stroke="#6f94c6" stroke-width="0.9"/>
<line x1="438.71" y1="605.57" x2="441.21" y2="605.57" stroke="#6f94c6" stroke-width="0.9"/>
<rect x="463.68" y="624.665" width="4.9" height="0.335" fill="#b7d7f0"/>
<line x1="466.13" y1="624.1625" x2="466.13" y2="625.0" stroke="#8cc4ea" stroke-width="0.9"/>
<line x1="464.88" y1="624.1625" x2="467.38" y2="624.1625" stroke="#8cc4ea" stroke-width="0.9"/>
<rect x="456.48" y="611.935" width="4.9" height="13.065" fill="#1c4a86"/>
<line x1="458.93" y1="603.225" x2="458.93" y2="611.935" stroke="#6f94c6" stroke-width="0.9"/>
<line x1="457.68" y1="603.225" x2="460.18" y2="603.225" stroke="#6f94c6" stroke-width="0.9"/>
<rect x="482.65" y="624.665" width="4.9" height="0.335" fill="#b7d7f0"/>
<line x1="485.09999999999997" y1="624.1625" x2="485.09999999999997" y2="625.0" stroke="#8cc4ea" stroke-width="0.9"/>
<line x1="483.84999999999997" y1="624.1625" x2="486.34999999999997" y2="624.1625" stroke="#8cc4ea" stroke-width="0.9"/>
<rect x="475.45" y="613.275" width="4.9" height="11.725" fill="#1c4a86"/>
<line x1="477.9" y1="607.4125" x2="477.9" y2="613.275" stroke="#6f94c6" stroke-width="0.9"/>
<line x1="476.65" y1="607.4125" x2="479.15" y2="607.4125" stroke="#6f94c6" stroke-width="0.9"/>
<rect x="501.61999999999995" y="624.4975" width="4.9" height="0.5025" fill="#b7d7f0"/>
<line x1="504.06999999999994" y1="623.66" x2="504.06999999999994" y2="625.0" stroke="#8cc4ea" stroke-width="0.9"/>
<line x1="502.81999999999994" y1="623.66" x2="505.31999999999994" y2="623.66" stroke="#8cc4ea" stroke-width="0.9"/>
<rect x="494.41999999999996" y="583.795" width="4.9" height="41.205000000000005" fill="#1c4a86"/>
<line x1="496.86999999999995" y1="573.745" x2="496.86999999999995" y2="583.795" stroke="#6f94c6" stroke-width="0.9"/>
<line x1="495.61999999999995" y1="573.745" x2="498.11999999999995" y2="573.745" stroke="#6f94c6" stroke-width="0.9"/>
<line x1="283.15" y1="625" x2="508.75" y2="625" stroke="#333" stroke-width="1.3"/>
<path d="M420.98999999999995,520.25 L420.98999999999995,502 L428.68999999999994,502 L428.68999999999994,534.5" fill="none" stroke="#8a8a8a" stroke-width="0.9"/>
<text x="424.5899999999999" y="502.3" font-size="6.5" fill="#222" text-anchor="middle" font-weight="bold">*</text>
<path d="M439.96,515.25 L439.96,502 L447.65999999999997,502 L447.65999999999997,534.5" fill="none" stroke="#8a8a8a" stroke-width="0.9"/>
<text x="443.55999999999995" y="502.3" font-size="6.5" fill="#222" text-anchor="middle" font-weight="bold">*</text>
<path d="M477.9,520.25 L477.9,502 L485.59999999999997,502 L485.59999999999997,534.5" fill="none" stroke="#8a8a8a" stroke-width="0.9"/>
<text x="481.5" y="502.3" font-size="6.5" fill="#222" text-anchor="middle" font-weight="bold">*</text>
<path d="M496.86999999999995,523.0 L496.86999999999995,502 L504.56999999999994,502 L504.56999999999994,534.5" fill="none" stroke="#8a8a8a" stroke-width="0.9"/>
<text x="500.4699999999999" y="502.3" font-size="6.5" fill="#222" text-anchor="middle" font-weight="bold">**</text>
<path d="M345.10999999999996,606.0775 L345.10999999999996,583.25 L352.80999999999995,583.25 L352.80999999999995,622.5" fill="none" stroke="#8a8a8a" stroke-width="0.9"/>
<text x="348.7099999999999" y="583.75" font-size="6.5" fill="#222" text-anchor="middle" font-weight="bold">**</text>
<path d="M364.08,605.24 L364.08,583.25 L371.78,583.25 L371.78,622.5" fill="none" stroke="#8a8a8a" stroke-width="0.9"/>
<text x="367.67999999999995" y="583.75" font-size="6.5" fill="#222" text-anchor="middle" font-weight="bold">**</text>
<path d="M383.05,610.265 L383.05,583.25 L390.75,583.25 L390.75,622.5" fill="none" stroke="#8a8a8a" stroke-width="0.9"/>
<text x="386.65" y="583.75" font-size="6.5" fill="#222" text-anchor="middle" font-weight="bold">*</text>
<path d="M402.02,600.885 L402.02,583.25 L409.71999999999997,583.25 L409.71999999999997,622.5" fill="none" stroke="#8a8a8a" stroke-width="0.9"/>
<text x="405.62" y="583.75" font-size="6.5" fill="#222" text-anchor="middle" font-weight="bold">**</text>
<path d="M420.98999999999995,583.465 L420.98999999999995,569.25 L428.68999999999994,569.25 L428.68999999999994,622.5" fill="none" stroke="#8a8a8a" stroke-width="0.9"/>
<text x="424.5899999999999" y="569.75" font-size="6.5" fill="#222" text-anchor="middle" font-weight="bold">*</text>
<path d="M439.96,604.57 L439.96,583.25 L447.65999999999997,583.25 L447.65999999999997,622.5" fill="none" stroke="#8a8a8a" stroke-width="0.9"/>
<text x="443.55999999999995" y="583.75" font-size="6.5" fill="#222" text-anchor="middle" font-weight="bold">**</text>
<path d="M458.93,602.225 L458.93,583.25 L466.63,583.25 L466.63,622.5" fill="none" stroke="#8a8a8a" stroke-width="0.9"/>
<text x="462.53" y="583.75" font-size="6.5" fill="#222" text-anchor="middle" font-weight="bold">*</text>
<path d="M477.9,606.4125 L477.9,583.25 L485.59999999999997,583.25 L485.59999999999997,622.5" fill="none" stroke="#8a8a8a" stroke-width="0.9"/>
<text x="481.5" y="583.75" font-size="6.5" fill="#222" text-anchor="middle" font-weight="bold">*</text>
<path d="M496.86999999999995,572.745 L496.86999999999995,569.25 L504.56999999999994,569.25 L504.56999999999994,622.5" fill="none" stroke="#8a8a8a" stroke-width="0.9"/>
<text x="500.4699999999999" y="569.75" font-size="6.5" fill="#222" text-anchor="middle" font-weight="bold">*</text>
<text x="0" y="0" font-size="8.6" fill="#231f20" text-anchor="end" textLength="27.51" lengthAdjust="spacingAndGlyphs" transform="translate(39.4,634.3) rotate(-45)">LT-HSC</text>
<line x1="35.1" y1="625" x2="35.1" y2="627.4" stroke="#222" stroke-width="1.0"/>
<text x="0" y="0" font-size="8.6" fill="#231f20" text-anchor="end" textLength="21.51" lengthAdjust="spacingAndGlyphs" transform="translate(58.37,634.3) rotate(-45)">MPP1</text>
<line x1="54.07" y1="625" x2="54.07" y2="627.4" stroke="#222" stroke-width="1.0"/>
<text x="0" y="0" font-size="8.6" fill="#231f20" text-anchor="end" textLength="21.51" lengthAdjust="spacingAndGlyphs" transform="translate(77.33999999999999,634.3) rotate(-45)">MPP2</text>
<line x1="73.03999999999999" y1="625" x2="73.03999999999999" y2="627.4" stroke="#222" stroke-width="1.0"/>
<text x="0" y="0" font-size="8.6" fill="#231f20" text-anchor="end" textLength="28.54" lengthAdjust="spacingAndGlyphs" transform="translate(96.30999999999999,634.3) rotate(-45)">MPP3-4</text>
<line x1="92.00999999999999" y1="625" x2="92.00999999999999" y2="627.4" stroke="#222" stroke-width="1.0"/>
<text x="0" y="0" font-size="8.6" fill="#231f20" text-anchor="end" textLength="14.93" lengthAdjust="spacingAndGlyphs" transform="translate(115.27999999999999,634.3) rotate(-45)">LSK</text>
<line x1="110.97999999999999" y1="625" x2="110.97999999999999" y2="627.4" stroke="#222" stroke-width="1.0"/>
<text x="0" y="0" font-size="8.6" fill="#231f20" text-anchor="end" textLength="17.56" lengthAdjust="spacingAndGlyphs" transform="translate(134.25,634.3) rotate(-45)">CMP</text>
<line x1="129.95" y1="625" x2="129.95" y2="627.4" stroke="#222" stroke-width="1.0"/>
<text x="0" y="0" font-size="8.6" fill="#231f20" text-anchor="end" textLength="17.99" lengthAdjust="spacingAndGlyphs" transform="translate(153.22,634.3) rotate(-45)">GMP</text>
<line x1="148.92" y1="625" x2="148.92" y2="627.4" stroke="#222" stroke-width="1.0"/>
<text x="0" y="0" font-size="8.6" fill="#231f20" text-anchor="end" textLength="17.12" lengthAdjust="spacingAndGlyphs" transform="translate(172.19,634.3) rotate(-45)">MEP</text>
<line x1="167.89" y1="625" x2="167.89" y2="627.4" stroke="#222" stroke-width="1.0"/>
<text x="0" y="0" font-size="8.6" fill="#231f20" text-anchor="end" textLength="34.68" lengthAdjust="spacingAndGlyphs" transform="translate(191.16,634.3) rotate(-45)">pre-MegE</text>
<line x1="186.85999999999999" y1="625" x2="186.85999999999999" y2="627.4" stroke="#222" stroke-width="1.0"/>
<text x="0" y="0" font-size="8.6" fill="#231f20" text-anchor="end" textLength="15.80" lengthAdjust="spacingAndGlyphs" transform="translate(210.13,634.3) rotate(-45)">MkP</text>
<line x1="205.82999999999998" y1="625" x2="205.82999999999998" y2="627.4" stroke="#222" stroke-width="1.0"/>
<text x="0" y="0" font-size="8.6" fill="#231f20" text-anchor="end" textLength="38.18" lengthAdjust="spacingAndGlyphs" transform="translate(229.1,634.3) rotate(-45)">pre-CFU-E</text>
<line x1="224.79999999999998" y1="625" x2="224.79999999999998" y2="627.4" stroke="#222" stroke-width="1.0"/>
<text x="0" y="0" font-size="8.6" fill="#231f20" text-anchor="end" textLength="24.14" lengthAdjust="spacingAndGlyphs" transform="translate(248.07,634.3) rotate(-45)">CFU-E</text>
<line x1="243.76999999999998" y1="625" x2="243.76999999999998" y2="627.4" stroke="#222" stroke-width="1.0"/>
<text x="0" y="0" font-size="8.6" fill="#231f20" text-anchor="end" textLength="27.51" lengthAdjust="spacingAndGlyphs" transform="translate(296.05,634.3) rotate(-45)">LT-HSC</text>
<line x1="291.75" y1="625" x2="291.75" y2="627.4" stroke="#222" stroke-width="1.0"/>
<text x="0" y="0" font-size="8.6" fill="#231f20" text-anchor="end" textLength="21.51" lengthAdjust="spacingAndGlyphs" transform="translate(315.02000000000004,634.3) rotate(-45)">MPP1</text>
<line x1="310.72" y1="625" x2="310.72" y2="627.4" stroke="#222" stroke-width="1.0"/>
<text x="0" y="0" font-size="8.6" fill="#231f20" text-anchor="end" textLength="21.51" lengthAdjust="spacingAndGlyphs" transform="translate(333.99,634.3) rotate(-45)">MPP2</text>
<line x1="329.69" y1="625" x2="329.69" y2="627.4" stroke="#222" stroke-width="1.0"/>
<text x="0" y="0" font-size="8.6" fill="#231f20" text-anchor="end" textLength="28.54" lengthAdjust="spacingAndGlyphs" transform="translate(352.96,634.3) rotate(-45)">MPP3-4</text>
<line x1="348.65999999999997" y1="625" x2="348.65999999999997" y2="627.4" stroke="#222" stroke-width="1.0"/>
<text x="0" y="0" font-size="8.6" fill="#231f20" text-anchor="end" textLength="14.93" lengthAdjust="spacingAndGlyphs" transform="translate(371.93,634.3) rotate(-45)">LSK</text>
<line x1="367.63" y1="625" x2="367.63" y2="627.4" stroke="#222" stroke-width="1.0"/>
<text x="0" y="0" font-size="8.6" fill="#231f20" text-anchor="end" textLength="17.56" lengthAdjust="spacingAndGlyphs" transform="translate(390.90000000000003,634.3) rotate(-45)">CMP</text>
<line x1="386.6" y1="625" x2="386.6" y2="627.4" stroke="#222" stroke-width="1.0"/>
<text x="0" y="0" font-size="8.6" fill="#231f20" text-anchor="end" textLength="17.99" lengthAdjust="spacingAndGlyphs" transform="translate(409.87,634.3) rotate(-45)">GMP</text>
<line x1="405.57" y1="625" x2="405.57" y2="627.4" stroke="#222" stroke-width="1.0"/>
<text x="0" y="0" font-size="8.6" fill="#231f20" text-anchor="end" textLength="17.12" lengthAdjust="spacingAndGlyphs" transform="translate(428.84,634.3) rotate(-45)">MEP</text>
<line x1="424.53999999999996" y1="625" x2="424.53999999999996" y2="627.4" stroke="#222" stroke-width="1.0"/>
<text x="0" y="0" font-size="8.6" fill="#231f20" text-anchor="end" textLength="34.68" lengthAdjust="spacingAndGlyphs" transform="translate(447.81,634.3) rotate(-45)">pre-MegE</text>
<line x1="443.51" y1="625" x2="443.51" y2="627.4" stroke="#222" stroke-width="1.0"/>
<text x="0" y="0" font-size="8.6" fill="#231f20" text-anchor="end" textLength="38.18" lengthAdjust="spacingAndGlyphs" transform="translate(466.78000000000003,634.3) rotate(-45)">pre-CFU-E</text>
<line x1="462.48" y1="625" x2="462.48" y2="627.4" stroke="#222" stroke-width="1.0"/>
<text x="0" y="0" font-size="8.6" fill="#231f20" text-anchor="end" textLength="15.80" lengthAdjust="spacingAndGlyphs" transform="translate(485.75,634.3) rotate(-45)">MkP</text>
<line x1="481.45" y1="625" x2="481.45" y2="627.4" stroke="#222" stroke-width="1.0"/>
<text x="0" y="0" font-size="8.6" fill="#231f20" text-anchor="end" textLength="24.14" lengthAdjust="spacingAndGlyphs" transform="translate(504.71999999999997,634.3) rotate(-45)">CFU-E</text>
<line x1="500.41999999999996" y1="625" x2="500.41999999999996" y2="627.4" stroke="#222" stroke-width="1.0"/>
<rect x="0.5" y="0.5" width="519" height="668" fill="none" stroke="#555" stroke-width="1"/>
</svg>
</body></html>
